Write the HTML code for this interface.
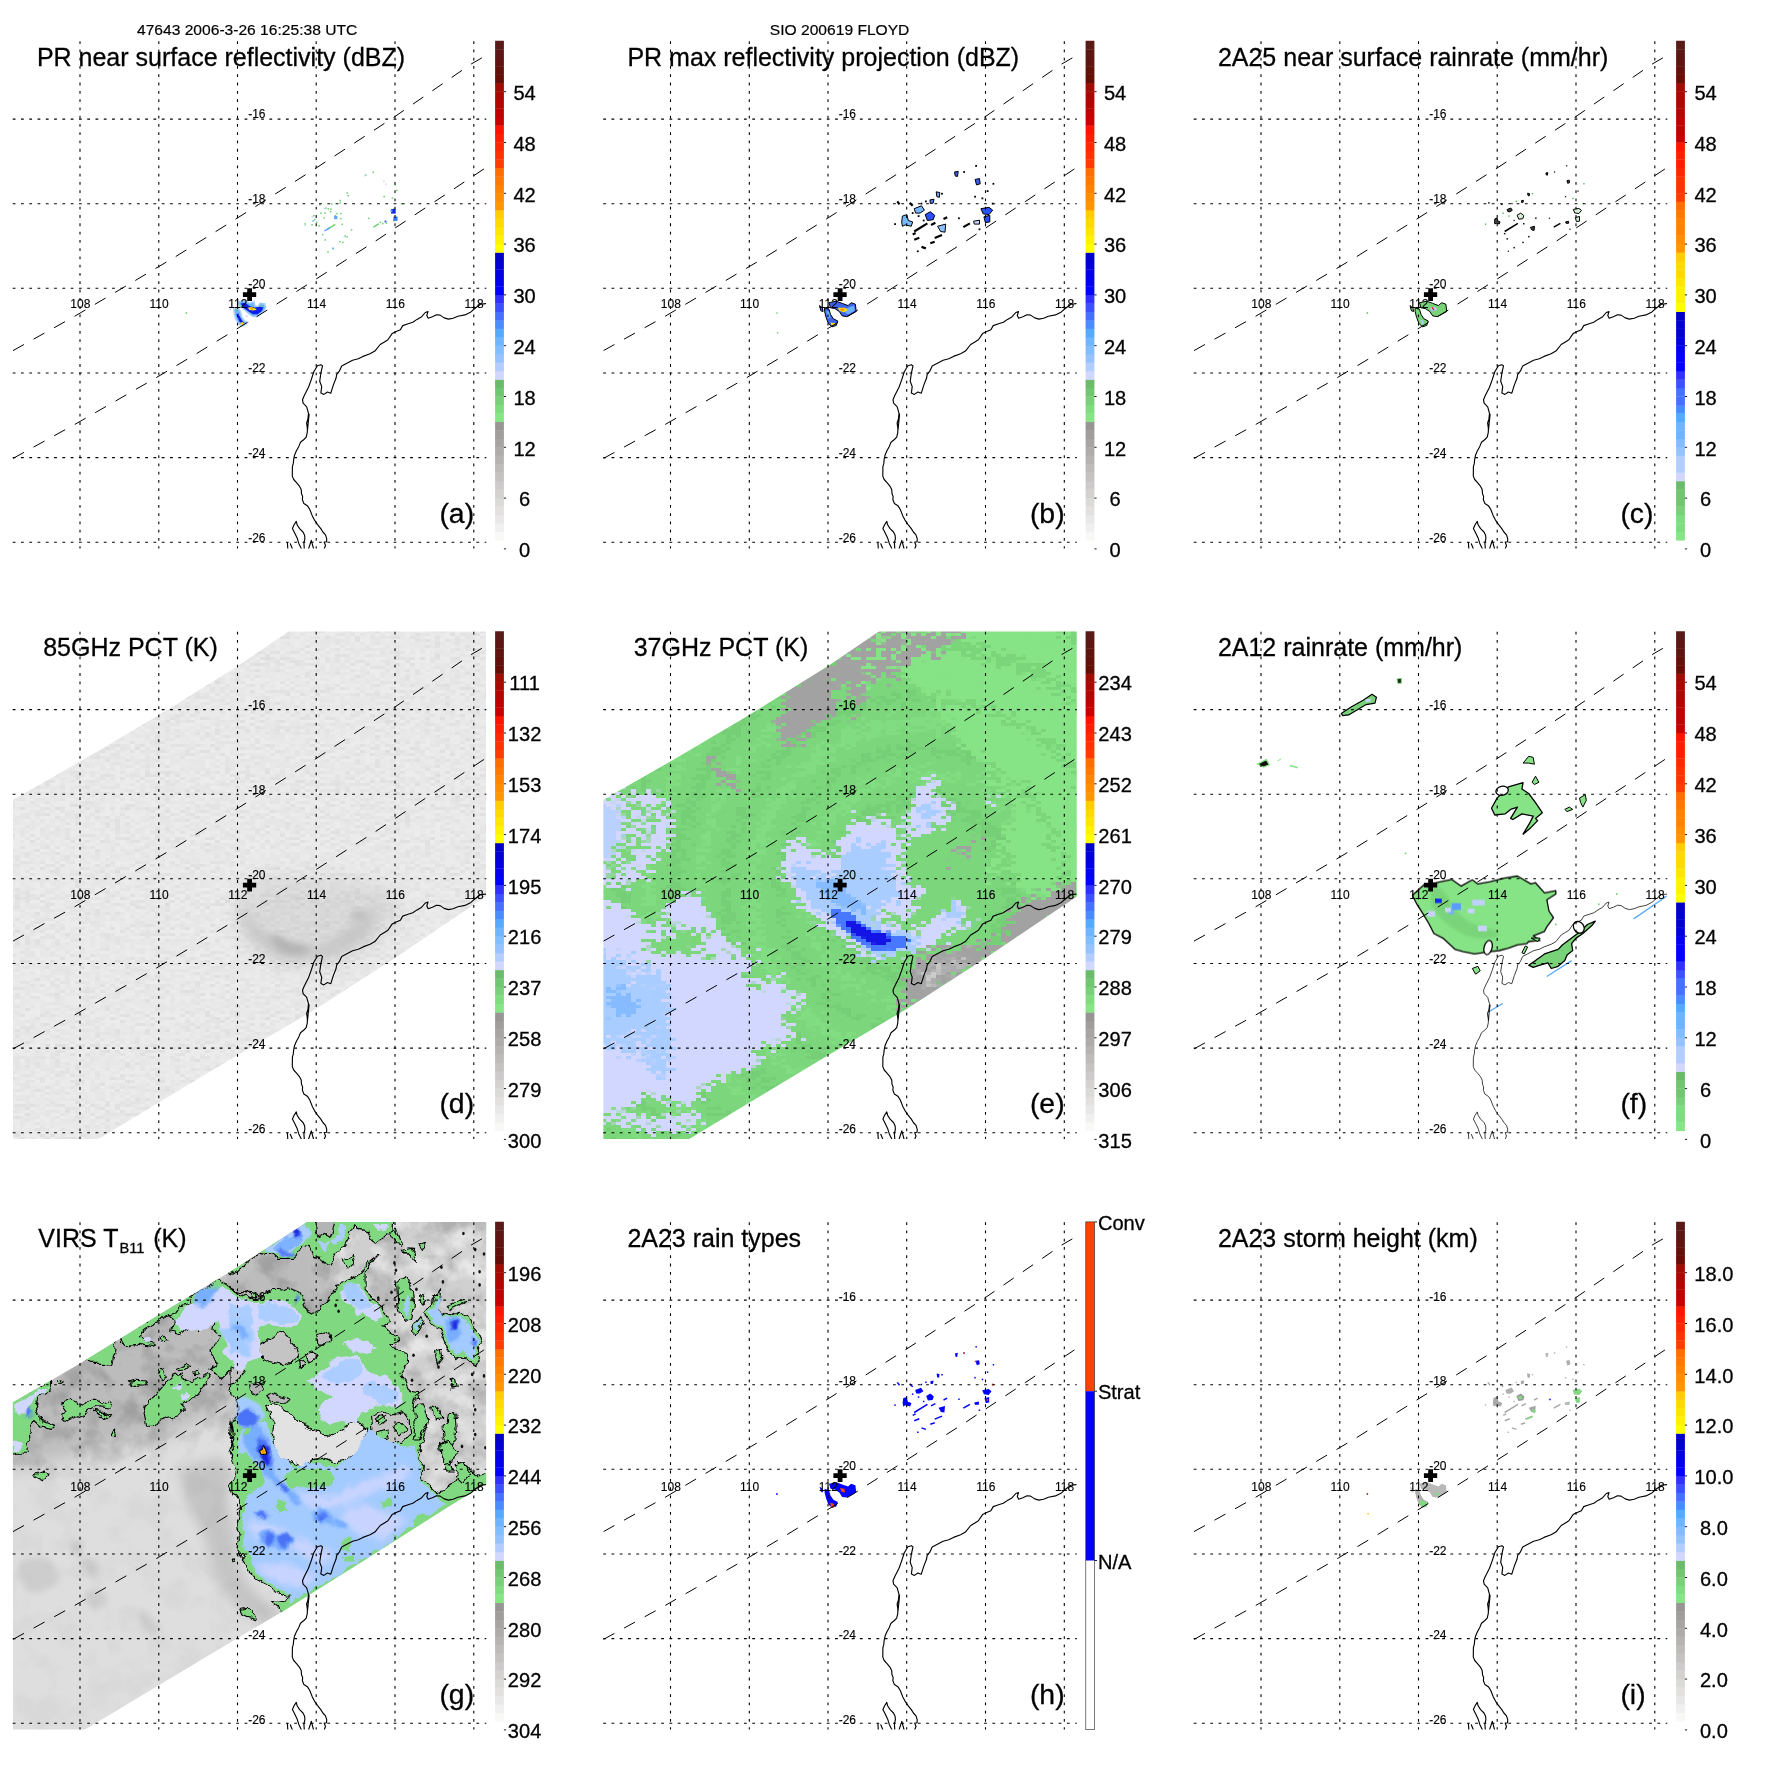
<!DOCTYPE html>
<html><head><meta charset="utf-8"><title>TRMM 47643 FLOYD</title>
<style>
html,body{margin:0;padding:0;background:#fff;}
svg{display:block;font-family:"Liberation Sans",sans-serif;}
.gd{stroke:#000;stroke-width:1.1;stroke-dasharray:2.8 5.48;fill:none;}
.sw{stroke:#000;stroke-width:1;stroke-dasharray:12.5 11;fill:none;}
.co{stroke:#000;fill:none;stroke-linejoin:round;stroke-linecap:round;}
.tk{stroke:#000;stroke-width:0.9;}
.gl{font-size:12px;fill:#000;stroke:#000;stroke-width:0.15px;}
.cb{font-size:19.7px;fill:#000;text-anchor:middle;stroke:#000;stroke-width:0.3px;}
.tt{font-size:25px;fill:#000;stroke:#000;stroke-width:0.3px;}
.pl{font-size:28.4px;fill:#000;stroke:#000;stroke-width:0.3px;}
.hd{font-size:15px;fill:#000;text-anchor:middle;stroke:#000;stroke-width:0.2px;}
.ol{stroke:#000;stroke-width:1.2;stroke-linejoin:round;}
</style></head><body>
<svg width="1771" height="1771" viewBox="0 0 1771 1771">
<defs>
<clipPath id="pc"><rect x="12.7" y="41" width="473.6" height="507.6"/></clipPath>
<g id="fu"><line x1="80" y1="41.2" x2="80" y2="548.6" class="gd"/>
<line x1="158.8" y1="41.2" x2="158.8" y2="548.6" class="gd"/>
<line x1="237.5" y1="41.2" x2="237.5" y2="548.6" class="gd"/>
<line x1="316.2" y1="41.2" x2="316.2" y2="548.6" class="gd"/>
<line x1="395" y1="41.2" x2="395" y2="548.6" class="gd"/>
<line x1="473.8" y1="41.2" x2="473.8" y2="548.6" class="gd"/>
<line x1="12.7" y1="119.1" x2="486.3" y2="119.1" class="gd"/>
<line x1="12.7" y1="203.7" x2="486.3" y2="203.7" class="gd"/>
<line x1="12.7" y1="288.3" x2="486.3" y2="288.3" class="gd"/>
<line x1="12.7" y1="373" x2="486.3" y2="373" class="gd"/>
<line x1="12.7" y1="457.6" x2="486.3" y2="457.6" class="gd"/>
<line x1="12.7" y1="542.2" x2="486.3" y2="542.2" class="gd"/>
<g clip-path="url(#pc)">
<polyline points="13,350.6 74.3,316.5 175.5,256.7 236,218.9 316,168.1 394.1,117.1 471.1,64.1 482,57.8 486.5,55.1" class="sw"/>
<polyline points="13,458.4 74.3,424.7 155.8,377.9 196.1,353.9 256.7,316.7 316,279.1 375.3,241.2 434.6,201.7 484,168.9 486.5,167.2" class="sw"/>
<path d="M485.7 303.6 L480.4 304.2 L475.7 307.8 L470.9 311.9 L465 314.9 L457.9 316.3 L453.1 318.2 L448.4 319.1 L444.2 317.9 L440.1 315.1 L436.5 314.7 L432.4 316.7 L428.2 318.2 L426.8 315.5 L428 311.6 L425.3 312.5 L421.7 316.7 L417 319.4 L412.8 322.3 L408.1 323.8 L402.7 325.6 L400.4 329.7 L396.2 331.5 L392.1 333.6 L387.9 339.8 L384.4 341.9 L380.2 344.5 L374.9 351.1 L370.1 353.8 L363 356.4 L358.3 358.8 L352.6 360.2 L346.4 363.5 L341.7 365.9 L339.3 371.2 L336.7 374.4 L336 378.3 L333.4 384.9 L330.8 393.2 L327.4 392 L323.9 394.4 L320.9 392.9 L321.7 386.6 L319.7 381.3 L320.9 373 L322.5 365.9 L320.9 364.7 L317.4 365.7 L313.8 371.8 L311.1 380.1 L308.5 387.2 L304.3 395.5 L302.5 399.7 L303.1 403.2 L306.7 406.8 L308.5 413.3 L307.9 419.3 L306.7 422.8 L307.5 430 L309.1 414.2 L308.1 418.9 L306.6 423.1 L307.4 427.8 L307.3 432.4 L306.2 437.1 L303.9 439.5 L300.5 442.2 L298.8 446.4 L296.3 451.1 L294.6 454.9 L293.7 459.1 L293.3 463.4 L292.4 466.7 L292.3 476.1 L293.7 479.5 L296.3 482.4 L299.2 485.8 L301.2 489.6 L301.5 493.8 L302.6 496.4 L302.4 499.8 L303.9 503.6 L307.7 506.1 L309.8 509.5 L312.3 515.9 L314.5 520.1 L317.4 524.3 L320.8 528.6 L322.9 532 L325.5 534.9 L326.7 538.7 L326.6 541.7 L324.2 542.1 L325.5 545.5 L324.2 548.9" class="co"/>
<path d="M301.5 548.9 L298.8 543.4 L297.1 537.9 L294.6 532.8 L292.4 528.6 L294.1 524.8 L296.3 521.4 L297.1 524.8 L299.6 528.6 L303 532 L304.6 535.3 L304.9 538.7 L303.9 543 L304.3 548.9" class="co"/>
<path d="M308.5 548.9 L311.3 540.4 L313.6 548.9" class="co"/>
<path d="M287.4 542.5 L287.8 548.9" class="co"/>
<path d="M290.3 543.8 L292.4 548.9" class="co"/>
</g></g>
<g id="lb"><text x="80.3" y="308.4" class="gl" text-anchor="middle">108</text>
<text x="159.1" y="308.4" class="gl" text-anchor="middle">110</text>
<text x="237.8" y="308.4" class="gl" text-anchor="middle">112</text>
<text x="316.6" y="308.4" class="gl" text-anchor="middle">114</text>
<text x="395.3" y="308.4" class="gl" text-anchor="middle">116</text>
<text x="474.1" y="308.4" class="gl" text-anchor="middle">118</text>
<text x="248.2" y="118.4" class="gl">-16</text>
<text x="248.2" y="203" class="gl">-18</text>
<text x="248.2" y="287.6" class="gl">-20</text>
<text x="248.2" y="372.3" class="gl">-22</text>
<text x="248.2" y="456.9" class="gl">-24</text>
<text x="248.2" y="541.5" class="gl">-26</text></g>
<g id="plus"><path d="M247.2 288.2h4.8v4.1h4.2v4.6h-4.2v4h-4.8v-4h-4.3v-4.6h4.3z" fill="#000"/></g>

<filter id="b3" x="-20%" y="-20%" width="140%" height="140%"><feGaussianBlur stdDeviation="3"/></filter>
<filter id="b6" x="-30%" y="-30%" width="160%" height="160%"><feGaussianBlur stdDeviation="6"/></filter>
<filter id="b10" x="-40%" y="-40%" width="180%" height="180%"><feGaussianBlur stdDeviation="10"/></filter>
<filter id="b2" x="-20%" y="-20%" width="140%" height="140%"><feGaussianBlur stdDeviation="1.5"/></filter>
<filter id="px" filterUnits="userSpaceOnUse" x="0" y="30" width="500" height="530" color-interpolation-filters="sRGB">
<feTurbulence type="fractalNoise" baseFrequency="0.4" numOctaves="1" seed="7" x="0" y="30" width="500" height="530" result="n"/>
<feDisplacementMap in="SourceGraphic" in2="n" scale="34" xChannelSelector="R" yChannelSelector="G" x="0" y="30" width="500" height="530" result="d"/>
<feFlood x="2.5" y="31.5" width="1" height="1" flood-color="#000"/>
<feOffset dx="0" dy="0" x="0.5" y="30.5" width="5" height="3"/>
<feTile x="0.5" y="30.5" width="500" height="530" result="t"/>
<feComposite in="d" in2="t" operator="in" x="0" y="30" width="500" height="530"/>
<feMorphology operator="dilate" radius="2 1" x="0" y="30" width="500" height="530"/>
</filter>
<filter id="tex" filterUnits="userSpaceOnUse" x="0" y="30" width="500" height="530" color-interpolation-filters="sRGB">
<feTurbulence type="fractalNoise" baseFrequency="0.3" numOctaves="1" seed="11" x="0" y="30" width="500" height="530"/>
<feColorMatrix type="matrix" values="0 0 0 0 0  0 0 0 0 0  0 0 0 0 0  1.6 0 0 0 -0.62" result="n"/>
<feFlood x="2" y="31.5" width="1" height="1" flood-color="#000"/>
<feOffset dx="0" dy="0" x="0" y="30.5" width="5" height="3"/>
<feTile x="0" y="30.5" width="500" height="530" result="t"/>
<feComposite in="n" in2="t" operator="in" x="0" y="30" width="500" height="530"/>
<feMorphology operator="dilate" radius="2 1" x="0" y="30" width="500" height="530"/>
</filter>
<filter id="px2" filterUnits="userSpaceOnUse" x="0" y="30" width="500" height="530" color-interpolation-filters="sRGB">
<feTurbulence type="fractalNoise" baseFrequency="0.4" numOctaves="1" seed="3" x="0" y="30" width="500" height="530" result="n"/>
<feDisplacementMap in="SourceGraphic" in2="n" scale="8" xChannelSelector="R" yChannelSelector="G" x="0" y="30" width="500" height="530" result="d"/>
<feFlood x="2.5" y="31.5" width="1" height="1" flood-color="#000"/>
<feOffset dx="0" dy="0" x="0.5" y="30.5" width="5" height="3"/>
<feTile x="0.5" y="30.5" width="500" height="530" result="t"/>
<feComposite in="d" in2="t" operator="in" x="0" y="30" width="500" height="530"/>
<feMorphology operator="dilate" radius="2 1" x="0" y="30" width="500" height="530"/>
</filter>
<filter id="rg" filterUnits="userSpaceOnUse" x="0" y="30" width="500" height="530">
<feTurbulence type="fractalNoise" baseFrequency="0.09" numOctaves="3" seed="5" result="n"/>
<feDisplacementMap in="SourceGraphic" in2="n" scale="9" xChannelSelector="R" yChannelSelector="G"/>
</filter>
<filter id="cl" filterUnits="userSpaceOnUse" x="0" y="30" width="500" height="530" color-interpolation-filters="sRGB">
<feTurbulence type="fractalNoise" baseFrequency="0.035" numOctaves="4" seed="21"/>
<feColorMatrix type="matrix" values="0 0 0 0 0  0 0 0 0 0  0 0 0 0 0  3.2 0 0 0 -1.35"/>
</filter>
<filter id="cw" filterUnits="userSpaceOnUse" x="0" y="30" width="500" height="530" color-interpolation-filters="sRGB">
<feTurbulence type="fractalNoise" baseFrequency="0.04" numOctaves="4" seed="8"/>
<feColorMatrix type="matrix" values="0 0 0 0 1  0 0 0 0 1  0 0 0 0 1  0 3.2 0 0 -1.35"/>
</filter>
<mask id="gupm" maskUnits="userSpaceOnUse" x="0" y="0" width="520" height="600"><path d="M0 225L320 30L500 30L500 330L440 345L330 215L250 235L180 265L100 280L0 300Z" fill="#fff" filter="url(#b10)"/></mask>
<clipPath id="gup"><path d="M0 225L320 30L500 30L500 330L440 345L330 255L250 275L180 315L100 315L0 345Z"/></clipPath>
<clipPath id="gur"><path d="M330 30L500 30L500 330L440 345L400 250L380 150L330 120Z"/></clipPath>
<clipPath id="virs"><path d="M12.7 221.6 80 182.4 158.6 134 237.4 86.3 307 41 486.4 41 486.4 302.5 445.6 327.4 363.7 379.8 285.1 428.9 200 479.7 84.7 548.9 12.7 548.9 Z"/></clipPath>
<clipPath id="fmain"><path d="M231.4 304.7 242.7 294.5 255.1 292.2 270.9 288.9 280 295.6 291.3 289.3 296.9 293.4 309.3 291.1 322.9 287.7 336.4 285.5 350 293.4 354.5 292.2 363.5 302.4 374.8 300.1 374.8 303.5 365.8 309.2 368 320.5 372.5 327.2 365.8 336.3 363.5 340.8 352.2 345.3 359 349.8 347.7 351 345.5 353.2 336.4 354.3 327.4 357.7 318.4 360 309.3 361.1 293.5 363.4 282.2 361.1 274.3 358.9 261.9 347.6 252.9 343 248.4 334 241.6 322.7 235.9 313.7Z"/></clipPath>
<clipPath id="tmi"><path d="M12.7 209.2 79.9 171 158.7 124.4 237.9 75.2 289.1 40.5 486.4 40.5 486.4 306 474.1 314.3 395.1 367.4 316.5 418.2 238.1 464.5 159.1 512 98 548.9 12.7 548.9 Z"/></clipPath>

</defs>
<rect width="1771" height="1771" fill="#fff"/>
<g opacity="0.999">
<text transform="translate(247.1 35.2) scale(1.04 1)" class="hd">47643 2006-3-26 16:25:38 UTC</text>
<text transform="translate(839.6 35.2) scale(1.04 1)" class="hd">SIO 200619 FLOYD</text>
<g transform="translate(0 0)">
<g clip-path="url(#pc)"><rect x="365" y="174.4" width="1.5" height="1.5" fill="#6cd06c"/>
<rect x="372.5" y="171.5" width="1.5" height="1.5" fill="#6cd06c"/>
<rect x="394.5" y="184" width="1.5" height="1.5" fill="#6cd06c"/>
<rect x="396.1" y="189.7" width="1.5" height="1.5" fill="#6cd06c"/>
<rect x="383.4" y="195.9" width="1.5" height="1.5" fill="#6cd06c"/>
<rect x="391.7" y="197.3" width="1.5" height="1.5" fill="#6cd06c"/>
<rect x="346.4" y="192.3" width="1.5" height="1.5" fill="#6cd06c"/>
<rect x="347.4" y="194.9" width="1.5" height="1.5" fill="#6cd06c"/>
<rect x="339.5" y="199.8" width="1.5" height="1.5" fill="#6cd06c"/>
<rect x="339.3" y="202.2" width="1.5" height="1.5" fill="#6cd06c"/>
<rect x="331" y="203.4" width="1.5" height="1.5" fill="#6cd06c"/>
<rect x="319.2" y="204" width="1.5" height="1.5" fill="#6cd06c"/>
<rect x="325.1" y="207.4" width="1.5" height="1.5" fill="#6cd06c"/>
<rect x="327.5" y="208.1" width="1.5" height="1.5" fill="#6cd06c"/>
<rect x="330.2" y="208.5" width="1.5" height="1.5" fill="#6cd06c"/>
<rect x="329.8" y="210.9" width="1.5" height="1.5" fill="#6cd06c"/>
<rect x="320.2" y="212.5" width="1.5" height="1.5" fill="#6cd06c"/>
<rect x="324.3" y="212.3" width="1.5" height="1.5" fill="#6cd06c"/>
<rect x="336.2" y="212.9" width="1.5" height="1.5" fill="#6cd06c"/>
<rect x="340.1" y="212.9" width="1.5" height="1.5" fill="#6cd06c"/>
<rect x="334.6" y="214.9" width="1.5" height="1.5" fill="#6cd06c"/>
<rect x="323.5" y="217.2" width="1.5" height="1.5" fill="#6cd06c"/>
<rect x="313.2" y="214.9" width="1.5" height="1.5" fill="#6cd06c"/>
<rect x="314" y="218.8" width="1.5" height="1.5" fill="#6cd06c"/>
<rect x="340.1" y="217.9" width="1.5" height="1.5" fill="#6cd06c"/>
<rect x="367.9" y="217.6" width="1.5" height="1.5" fill="#6cd06c"/>
<rect x="304.4" y="223.2" width="1.5" height="1.5" fill="#6cd06c"/>
<rect x="311.3" y="224" width="1.5" height="1.5" fill="#6cd06c"/>
<rect x="316" y="221.6" width="1.5" height="1.5" fill="#6cd06c"/>
<rect x="318.4" y="225" width="1.5" height="1.5" fill="#6cd06c"/>
<rect x="341.3" y="223.6" width="1.5" height="1.5" fill="#6cd06c"/>
<rect x="350.8" y="229.1" width="1.5" height="1.5" fill="#6cd06c"/>
<rect x="379.6" y="221.6" width="1.5" height="1.5" fill="#6cd06c"/>
<rect x="382" y="222.8" width="1.5" height="1.5" fill="#6cd06c"/>
<rect x="385.6" y="222.4" width="1.5" height="1.5" fill="#6cd06c"/>
<rect x="321.9" y="233.7" width="1.5" height="1.5" fill="#6cd06c"/>
<rect x="324.5" y="239.2" width="1.5" height="1.5" fill="#6cd06c"/>
<rect x="344.5" y="235.3" width="1.5" height="1.5" fill="#6cd06c"/>
<rect x="346.4" y="236.2" width="1.5" height="1.5" fill="#6cd06c"/>
<rect x="339.3" y="240.9" width="1.5" height="1.5" fill="#6cd06c"/>
<rect x="342.1" y="241.6" width="1.5" height="1.5" fill="#6cd06c"/>
<rect x="327.3" y="251.2" width="1.5" height="1.5" fill="#6cd06c"/>
<rect x="400.8" y="203.2" width="1.5" height="1.5" fill="#6cd06c"/>
<rect x="393.1" y="208.1" width="1.5" height="1.5" fill="#6cd06c"/>
<rect x="395.9" y="216.4" width="1.5" height="1.5" fill="#6cd06c"/>
<rect x="393.1" y="220" width="1.5" height="1.5" fill="#6cd06c"/>
<line x1="327.4" y1="229.1" x2="335.3" y2="224.3" stroke="#6cd06c" stroke-width="1.4"/>
<line x1="373.3" y1="227.1" x2="378.8" y2="223.9" stroke="#6cd06c" stroke-width="1.4"/>
<line x1="324.3" y1="231" x2="329.8" y2="227.9" stroke="#55a0ff" stroke-width="1.4"/>
<rect x="334.1" y="216" width="3.2" height="3.2" fill="#55aaff"/>
<rect x="332.1" y="247.5" width="1.8" height="1.8" fill="#55aaff"/>
<rect x="384.6" y="220.6" width="1.8" height="1.8" fill="#2a50ff"/>
<rect x="312.4" y="220" width="1.6" height="1.6" fill="#78b8ff"/>
<rect x="364.2" y="174.9" width="1.5" height="1.5" fill="#c8d2ff"/>
<rect x="383.2" y="180.5" width="1.5" height="1.5" fill="#d2d7ff"/>
<rect x="385.2" y="183.4" width="1.5" height="1.5" fill="#d2d7ff"/>
<rect x="323.5" y="208.1" width="1.5" height="1.5" fill="#d2d7ff"/>
<rect x="311.5" y="215.9" width="1.8" height="1.8" fill="#d2d7ff"/>
<rect x="304.5" y="225.1" width="1.5" height="1.5" fill="#d2d7ff"/>
<rect x="343.4" y="236.2" width="1.5" height="1.5" fill="#d2d7ff"/>
<rect x="393.3" y="216.7" width="4.2" height="4.2" fill="#3c78ff"/>
<rect x="391.1" y="209" width="4.6" height="4.6" fill="#1428f0"/>
<rect x="390.5" y="209.9" width="2" height="2" fill="#55aaff"/>
<path d="M238.4 302 244.5 300.7 250 303.4 254 301.3 254.7 306.1 258.1 306.8 260.1 303.4 264.9 304 265.5 307.4 263.5 311.5 260.1 313.5 257.4 316.2 252.7 316.2 248.6 313.5 245.2 310.1 241.8 307.4 239.1 304.7Z" fill="#6ab4ff" stroke="#9ccaff" stroke-width="1.5"/>
<path d="M233.7 308.8 237.8 307.4 240.5 311.5 241.8 316.9 244.5 321 247.9 322.3 244.5 325 241.8 326.4 238.4 323.7 235.7 318.9 234.4 314.2Z" fill="#6ab4ff" stroke="#b4d4ff" stroke-width="1.5"/>
<path d="M240.5 303.4 245.2 302.7 249.3 306.1 254.7 307.4 260.1 306.8 263.5 307.4 261.5 311.5 257.4 314.2 252.7 314.2 248.6 311.5 244.5 308.8Z" fill="#0f1eea"/>
<path d="M236.4 314.2 238.4 313.5 241.1 318.9 243.9 323 241.8 324.4 239.1 321Z" fill="#0f1eea"/>
<path d="M247.9 307.8 251.3 307.1 255.4 308.4 256.7 309.8 253.3 310.5 249.3 310.1Z" fill="#ffdc00"/>
<path d="M250.6 307.8 253 307.8 253 309.5 250.6 309.5Z" fill="#ff9a00"/>
<path d="M240.1 322.7 242.8 322 243.9 324.4 241.1 325Z" fill="#ffdc00"/>
<rect x="185.5" y="312.2" width="1.6" height="1.6" fill="#6cd06c"/>
<rect x="235.9" y="309.3" width="1.6" height="1.6" fill="#6cd06c"/>
<rect x="239.7" y="306" width="1.6" height="1.6" fill="#6cd06c"/>
<rect x="238.7" y="314.1" width="1.6" height="1.6" fill="#6cd06c"/>
<rect x="260.7" y="305.3" width="1.6" height="1.6" fill="#6cd06c"/>
<rect x="228.7" y="306.5" width="1.8" height="1.8" fill="#c8d6ff"/>
<rect x="229.4" y="308.6" width="1.8" height="1.8" fill="#c8d6ff"/>
<rect x="253.1" y="301.1" width="1.8" height="1.8" fill="#c8d6ff"/>
<rect x="264" y="303.8" width="1.8" height="1.8" fill="#c8d6ff"/>
<rect x="245.7" y="315.3" width="1.8" height="1.8" fill="#c8d6ff"/></g>
<use href="#fu" stroke-width="1.15"/>
<use href="#lb" y="0"/>

<use href="#plus"/>
<text x="36.9" y="65.9" class="tt">PR near surface reflectivity (dBZ)</text>
<text x="439.4" y="522.6" class="pl">(a)</text>
<rect x="495.1" y="531.82" width="8.8" height="8.77" fill="#f8f8f7"/>
<rect x="495.1" y="523.35" width="8.8" height="8.77" fill="#f0f0f0"/>
<rect x="495.1" y="514.88" width="8.8" height="8.77" fill="#e9e8e8"/>
<rect x="495.1" y="506.42" width="8.8" height="8.77" fill="#e2e1e0"/>
<rect x="495.1" y="497.95" width="8.8" height="8.77" fill="#dadad9"/>
<rect x="495.1" y="489.48" width="8.8" height="8.77" fill="#d3d2d1"/>
<rect x="495.1" y="481.02" width="8.8" height="8.77" fill="#cccaca"/>
<rect x="495.1" y="472.55" width="8.8" height="8.77" fill="#c4c3c2"/>
<rect x="495.1" y="464.08" width="8.8" height="8.77" fill="#bdbcba"/>
<rect x="495.1" y="455.62" width="8.8" height="8.77" fill="#b5b4b3"/>
<rect x="495.1" y="447.15" width="8.8" height="8.77" fill="#aeacab"/>
<rect x="495.1" y="438.68" width="8.8" height="8.77" fill="#a7a5a3"/>
<rect x="495.1" y="430.22" width="8.8" height="8.77" fill="#9f9e9c"/>
<rect x="495.1" y="421.75" width="8.8" height="8.77" fill="#989694"/>
<rect x="495.1" y="413.28" width="8.8" height="8.77" fill="#86e686"/>
<rect x="495.1" y="404.82" width="8.8" height="8.77" fill="#7fdc7f"/>
<rect x="495.1" y="396.35" width="8.8" height="8.77" fill="#78d178"/>
<rect x="495.1" y="387.88" width="8.8" height="8.77" fill="#71c671"/>
<rect x="495.1" y="379.42" width="8.8" height="8.77" fill="#6abc6a"/>
<rect x="495.1" y="370.95" width="8.8" height="8.77" fill="#d2d7ff"/>
<rect x="495.1" y="362.48" width="8.8" height="8.77" fill="#b4cdff"/>
<rect x="495.1" y="354.02" width="8.8" height="8.77" fill="#96c3ff"/>
<rect x="495.1" y="345.55" width="8.8" height="8.77" fill="#82beff"/>
<rect x="495.1" y="337.08" width="8.8" height="8.77" fill="#6eb4ff"/>
<rect x="495.1" y="328.62" width="8.8" height="8.77" fill="#55aaff"/>
<rect x="495.1" y="320.15" width="8.8" height="8.77" fill="#4a8cff"/>
<rect x="495.1" y="311.68" width="8.8" height="8.77" fill="#4670ff"/>
<rect x="495.1" y="303.22" width="8.8" height="8.77" fill="#3c50ff"/>
<rect x="495.1" y="294.75" width="8.8" height="8.77" fill="#3030ff"/>
<rect x="495.1" y="286.28" width="8.8" height="8.77" fill="#0000ff"/>
<rect x="495.1" y="277.82" width="8.8" height="8.77" fill="#0000f0"/>
<rect x="495.1" y="269.35" width="8.8" height="8.77" fill="#0000e1"/>
<rect x="495.1" y="260.88" width="8.8" height="8.77" fill="#0000d4"/>
<rect x="495.1" y="252.42" width="8.8" height="8.77" fill="#0000c8"/>
<rect x="495.1" y="243.95" width="8.8" height="8.77" fill="#ffff00"/>
<rect x="495.1" y="235.48" width="8.8" height="8.77" fill="#fff200"/>
<rect x="495.1" y="227.02" width="8.8" height="8.77" fill="#ffe600"/>
<rect x="495.1" y="218.55" width="8.8" height="8.77" fill="#ffda00"/>
<rect x="495.1" y="210.08" width="8.8" height="8.77" fill="#ffcd00"/>
<rect x="495.1" y="201.62" width="8.8" height="8.77" fill="#ff9600"/>
<rect x="495.1" y="193.15" width="8.8" height="8.77" fill="#ff8c00"/>
<rect x="495.1" y="184.68" width="8.8" height="8.77" fill="#ff8200"/>
<rect x="495.1" y="176.22" width="8.8" height="8.77" fill="#ff7800"/>
<rect x="495.1" y="167.75" width="8.8" height="8.77" fill="#ff6e00"/>
<rect x="495.1" y="159.28" width="8.8" height="8.77" fill="#ff3c00"/>
<rect x="495.1" y="150.82" width="8.8" height="8.77" fill="#ff3200"/>
<rect x="495.1" y="142.35" width="8.8" height="8.77" fill="#ff2800"/>
<rect x="495.1" y="133.88" width="8.8" height="8.77" fill="#ff1e00"/>
<rect x="495.1" y="125.42" width="8.8" height="8.77" fill="#ff1400"/>
<rect x="495.1" y="116.95" width="8.8" height="8.77" fill="#c80000"/>
<rect x="495.1" y="108.48" width="8.8" height="8.77" fill="#be0300"/>
<rect x="495.1" y="100.02" width="8.8" height="8.77" fill="#b40600"/>
<rect x="495.1" y="91.55" width="8.8" height="8.77" fill="#aa0900"/>
<rect x="495.1" y="83.08" width="8.8" height="8.77" fill="#a00c00"/>
<rect x="495.1" y="74.62" width="8.8" height="8.77" fill="#640e06"/>
<rect x="495.1" y="66.15" width="8.8" height="8.77" fill="#62110a"/>
<rect x="495.1" y="57.68" width="8.8" height="8.77" fill="#5f140f"/>
<rect x="495.1" y="49.22" width="8.8" height="8.77" fill="#5c1714"/>
<rect x="495.1" y="40.75" width="8.8" height="8.77" fill="#5a1a18"/>
<line x1="503.9" y1="548.90" x2="506.1" y2="548.90" class="tk"/>
<text transform="translate(524.6 557.1) scale(1.02 1)" class="cb">0</text>
<line x1="503.9" y1="498.10" x2="506.1" y2="498.10" class="tk"/>
<text transform="translate(524.6 506.3) scale(1.02 1)" class="cb">6</text>
<line x1="503.9" y1="447.30" x2="506.1" y2="447.30" class="tk"/>
<text transform="translate(524.6 455.5) scale(1.02 1)" class="cb">12</text>
<line x1="503.9" y1="396.50" x2="506.1" y2="396.50" class="tk"/>
<text transform="translate(524.6 404.7) scale(1.02 1)" class="cb">18</text>
<line x1="503.9" y1="345.70" x2="506.1" y2="345.70" class="tk"/>
<text transform="translate(524.6 353.9) scale(1.02 1)" class="cb">24</text>
<line x1="503.9" y1="294.90" x2="506.1" y2="294.90" class="tk"/>
<text transform="translate(524.6 303.1) scale(1.02 1)" class="cb">30</text>
<line x1="503.9" y1="244.10" x2="506.1" y2="244.10" class="tk"/>
<text transform="translate(524.6 252.3) scale(1.02 1)" class="cb">36</text>
<line x1="503.9" y1="193.30" x2="506.1" y2="193.30" class="tk"/>
<text transform="translate(524.6 201.5) scale(1.02 1)" class="cb">42</text>
<line x1="503.9" y1="142.50" x2="506.1" y2="142.50" class="tk"/>
<text transform="translate(524.6 150.7) scale(1.02 1)" class="cb">48</text>
<line x1="503.9" y1="91.70" x2="506.1" y2="91.70" class="tk"/>
<text transform="translate(524.6 99.9) scale(1.02 1)" class="cb">54</text>
</g>
<g transform="translate(590.5 0)">
<g clip-path="url(#pc)"><path d="M311.9 216.1 316.3 214.6 317.8 220.5 322.2 221.9 320.7 226.3 314.8 224.9 311.9 226.3 311.2 221.9Z" fill="#78b8ff" stroke="#000" stroke-width="1" stroke-linejoin="round"/>
<path d="M323.7 208.7 331 205.8 333.9 210.2 329.5 213.1 325.1 213.1Z" fill="#78b8ff" stroke="#000" stroke-width="1" stroke-linejoin="round"/>
<path d="M334.7 214.6 339.8 211.7 344.2 215.3 342.7 219.7 336.9 220.5Z" fill="#2a50ff" stroke="#000" stroke-width="1" stroke-linejoin="round"/>
<path d="M347.1 226.3 355.2 224.1 354.5 232.2 350.1 231.5Z" fill="#8cc0ff" stroke="#000" stroke-width="1" stroke-linejoin="round"/>
<path d="M390.4 208.7 398.5 207.3 402.2 210.2 398.5 214.6 392.7 213.9Z" fill="#2a50ff" stroke="#000" stroke-width="1" stroke-linejoin="round"/>
<path d="M393.4 216.8 399.3 215.3 399.3 221.9 394.9 222.7Z" fill="#2a50ff" stroke="#000" stroke-width="1" stroke-linejoin="round"/>
<path d="M383.1 221.2 389 220.2 389 224.1 383.8 224.1Z" fill="#c8d6ff" stroke="#000" stroke-width="1" stroke-linejoin="round"/>
<path d="M345.7 191.8 349.3 192.6 348.9 197.3 346.4 196.7Z" fill="#78a0ff" stroke="#000" stroke-width="1" stroke-linejoin="round"/>
<path d="M339.5 199.9 343.5 199.2 342.7 203.1 339.8 203.6Z" fill="#5078ff" stroke="#000" stroke-width="1" stroke-linejoin="round"/>
<path d="M384.6 179.4 389 178.6 389.7 183.8 386 184.9Z" fill="#3c5cf0" stroke="#000" stroke-width="1" stroke-linejoin="round"/>
<path d="M364 172 367.7 171.3 367 176.4 364.8 176.1Z" fill="#3c5cf0" stroke="#000" stroke-width="1" stroke-linejoin="round"/>
<line x1="323.7" y1="231.5" x2="336.9" y2="223.4" stroke="#000" stroke-width="2.2"/>
<line x1="372.8" y1="227.1" x2="379.4" y2="223.4" stroke="#000" stroke-width="2.2"/>
<line x1="344.2" y1="238.1" x2="351.5" y2="235.1" stroke="#000" stroke-width="2.2"/>
<line x1="323.7" y1="239.8" x2="328.8" y2="237.8" stroke="#000" stroke-width="2.2"/>
<line x1="339.8" y1="243.2" x2="344.2" y2="241.8" stroke="#000" stroke-width="2.2"/>
<line x1="331" y1="246.9" x2="335.4" y2="248.4" stroke="#000" stroke-width="2.2"/>
<line x1="322.2" y1="234.4" x2="325.1" y2="232.9" stroke="#000" stroke-width="2.2"/>
<line x1="340.5" y1="224.9" x2="344.9" y2="222.7" stroke="#000" stroke-width="2.2"/>
<line x1="353" y1="219" x2="356.7" y2="217.2" stroke="#000" stroke-width="2.2"/>
<line x1="306.8" y1="201.4" x2="309" y2="204.3" stroke="#000" stroke-width="2.2"/>
<line x1="319.2" y1="202.9" x2="322.2" y2="205.8" stroke="#000" stroke-width="2.2"/>
<rect x="326.4" y="250.4" width="1.8" height="1.8" fill="#000"/>
<rect x="303.7" y="223.2" width="1.8" height="1.8" fill="#000"/>
<rect x="383.7" y="195.8" width="1.8" height="1.8" fill="#000"/>
<rect x="391" y="197.5" width="1.8" height="1.8" fill="#000"/>
<rect x="396.2" y="190.2" width="1.8" height="1.8" fill="#000"/>
<rect x="402" y="182.9" width="1.8" height="1.8" fill="#000"/>
<rect x="384.7" y="165" width="1.8" height="1.8" fill="#000"/>
<rect x="401.3" y="202.7" width="1.8" height="1.8" fill="#000"/>
<rect x="388.1" y="228.4" width="1.8" height="1.8" fill="#000"/>
<rect x="327.2" y="215.2" width="1.8" height="1.8" fill="#000"/>
<rect x="332.3" y="219.6" width="1.8" height="1.8" fill="#000"/>
<rect x="321.3" y="212.2" width="1.8" height="1.8" fill="#000"/>
<rect x="330.1" y="202.7" width="1.8" height="1.8" fill="#000"/>
<rect x="334.5" y="200.5" width="1.8" height="1.8" fill="#000"/>
<rect x="367.5" y="217.4" width="1.8" height="1.8" fill="#000"/>
<rect x="350.6" y="192.8" width="1.8" height="1.8" fill="#000"/>
<rect x="372.7" y="171.1" width="1.8" height="1.8" fill="#000"/>
<rect x="185.7" y="312.3" width="1.4" height="1.4" fill="#6cd06c"/>
<rect x="186.4" y="332.1" width="1.4" height="1.4" fill="#6cd06c"/>
<path d="M238.5 302.7 245.8 301.2 251.7 303.4 257.6 305.6 260.5 302.7 264.9 304.2 265.7 311.5 260.5 314.4 256.1 316.6 251.7 315.9 248.8 311.5 244.4 308.6 240 307.8Z" fill="#3c64f4" stroke="#000" stroke-width="1" stroke-linejoin="round"/>
<path d="M234.1 307.8 238.5 309.3 240 314.4 242.9 318.8 247.3 321 245.8 325.4 241.4 326.9 237.8 323.2 235.6 317.4 234.1 311.5Z" fill="#3c64f4" stroke="#000" stroke-width="1" stroke-linejoin="round"/>
<path d="M229 305.6 231.9 307.8 232.6 311.5 230.4 310.8Z" fill="#3c64f4" stroke="#000" stroke-width="1" stroke-linejoin="round"/>
<path d="M251.7 310.8 257.6 307.8 263.5 305.6 264.2 310.8 257.6 314.4Z" fill="#6ab0ff"/>
<path d="M235.6 310.8 238.5 311.5 240 317.4 237.3 318.8Z" fill="#6ab0ff"/>
<path d="M247.3 307.8 254.6 307.8 257.6 310 253.2 312.2 248.8 310.8Z" fill="#ffdc00"/>
<path d="M250 308.6 253.9 308.6 253.9 310.8 250 310.8Z" fill="#ff9a00"/>
<path d="M240 322.5 245.1 323.2 243.6 325.4 240.7 324.7Z" fill="#ffdc00"/></g>
<use href="#fu" stroke-width="1.15"/>
<use href="#lb" y="0"/>

<use href="#plus"/>
<text x="36.9" y="65.9" class="tt">PR max reflectivity projection (dBZ)</text>
<text x="439.4" y="522.6" class="pl">(b)</text>
<rect x="495.1" y="531.82" width="8.8" height="8.77" fill="#f8f8f7"/>
<rect x="495.1" y="523.35" width="8.8" height="8.77" fill="#f0f0f0"/>
<rect x="495.1" y="514.88" width="8.8" height="8.77" fill="#e9e8e8"/>
<rect x="495.1" y="506.42" width="8.8" height="8.77" fill="#e2e1e0"/>
<rect x="495.1" y="497.95" width="8.8" height="8.77" fill="#dadad9"/>
<rect x="495.1" y="489.48" width="8.8" height="8.77" fill="#d3d2d1"/>
<rect x="495.1" y="481.02" width="8.8" height="8.77" fill="#cccaca"/>
<rect x="495.1" y="472.55" width="8.8" height="8.77" fill="#c4c3c2"/>
<rect x="495.1" y="464.08" width="8.8" height="8.77" fill="#bdbcba"/>
<rect x="495.1" y="455.62" width="8.8" height="8.77" fill="#b5b4b3"/>
<rect x="495.1" y="447.15" width="8.8" height="8.77" fill="#aeacab"/>
<rect x="495.1" y="438.68" width="8.8" height="8.77" fill="#a7a5a3"/>
<rect x="495.1" y="430.22" width="8.8" height="8.77" fill="#9f9e9c"/>
<rect x="495.1" y="421.75" width="8.8" height="8.77" fill="#989694"/>
<rect x="495.1" y="413.28" width="8.8" height="8.77" fill="#86e686"/>
<rect x="495.1" y="404.82" width="8.8" height="8.77" fill="#7fdc7f"/>
<rect x="495.1" y="396.35" width="8.8" height="8.77" fill="#78d178"/>
<rect x="495.1" y="387.88" width="8.8" height="8.77" fill="#71c671"/>
<rect x="495.1" y="379.42" width="8.8" height="8.77" fill="#6abc6a"/>
<rect x="495.1" y="370.95" width="8.8" height="8.77" fill="#d2d7ff"/>
<rect x="495.1" y="362.48" width="8.8" height="8.77" fill="#b4cdff"/>
<rect x="495.1" y="354.02" width="8.8" height="8.77" fill="#96c3ff"/>
<rect x="495.1" y="345.55" width="8.8" height="8.77" fill="#82beff"/>
<rect x="495.1" y="337.08" width="8.8" height="8.77" fill="#6eb4ff"/>
<rect x="495.1" y="328.62" width="8.8" height="8.77" fill="#55aaff"/>
<rect x="495.1" y="320.15" width="8.8" height="8.77" fill="#4a8cff"/>
<rect x="495.1" y="311.68" width="8.8" height="8.77" fill="#4670ff"/>
<rect x="495.1" y="303.22" width="8.8" height="8.77" fill="#3c50ff"/>
<rect x="495.1" y="294.75" width="8.8" height="8.77" fill="#3030ff"/>
<rect x="495.1" y="286.28" width="8.8" height="8.77" fill="#0000ff"/>
<rect x="495.1" y="277.82" width="8.8" height="8.77" fill="#0000f0"/>
<rect x="495.1" y="269.35" width="8.8" height="8.77" fill="#0000e1"/>
<rect x="495.1" y="260.88" width="8.8" height="8.77" fill="#0000d4"/>
<rect x="495.1" y="252.42" width="8.8" height="8.77" fill="#0000c8"/>
<rect x="495.1" y="243.95" width="8.8" height="8.77" fill="#ffff00"/>
<rect x="495.1" y="235.48" width="8.8" height="8.77" fill="#fff200"/>
<rect x="495.1" y="227.02" width="8.8" height="8.77" fill="#ffe600"/>
<rect x="495.1" y="218.55" width="8.8" height="8.77" fill="#ffda00"/>
<rect x="495.1" y="210.08" width="8.8" height="8.77" fill="#ffcd00"/>
<rect x="495.1" y="201.62" width="8.8" height="8.77" fill="#ff9600"/>
<rect x="495.1" y="193.15" width="8.8" height="8.77" fill="#ff8c00"/>
<rect x="495.1" y="184.68" width="8.8" height="8.77" fill="#ff8200"/>
<rect x="495.1" y="176.22" width="8.8" height="8.77" fill="#ff7800"/>
<rect x="495.1" y="167.75" width="8.8" height="8.77" fill="#ff6e00"/>
<rect x="495.1" y="159.28" width="8.8" height="8.77" fill="#ff3c00"/>
<rect x="495.1" y="150.82" width="8.8" height="8.77" fill="#ff3200"/>
<rect x="495.1" y="142.35" width="8.8" height="8.77" fill="#ff2800"/>
<rect x="495.1" y="133.88" width="8.8" height="8.77" fill="#ff1e00"/>
<rect x="495.1" y="125.42" width="8.8" height="8.77" fill="#ff1400"/>
<rect x="495.1" y="116.95" width="8.8" height="8.77" fill="#c80000"/>
<rect x="495.1" y="108.48" width="8.8" height="8.77" fill="#be0300"/>
<rect x="495.1" y="100.02" width="8.8" height="8.77" fill="#b40600"/>
<rect x="495.1" y="91.55" width="8.8" height="8.77" fill="#aa0900"/>
<rect x="495.1" y="83.08" width="8.8" height="8.77" fill="#a00c00"/>
<rect x="495.1" y="74.62" width="8.8" height="8.77" fill="#640e06"/>
<rect x="495.1" y="66.15" width="8.8" height="8.77" fill="#62110a"/>
<rect x="495.1" y="57.68" width="8.8" height="8.77" fill="#5f140f"/>
<rect x="495.1" y="49.22" width="8.8" height="8.77" fill="#5c1714"/>
<rect x="495.1" y="40.75" width="8.8" height="8.77" fill="#5a1a18"/>
<line x1="503.9" y1="548.90" x2="506.1" y2="548.90" class="tk"/>
<text transform="translate(524.6 557.1) scale(1.02 1)" class="cb">0</text>
<line x1="503.9" y1="498.10" x2="506.1" y2="498.10" class="tk"/>
<text transform="translate(524.6 506.3) scale(1.02 1)" class="cb">6</text>
<line x1="503.9" y1="447.30" x2="506.1" y2="447.30" class="tk"/>
<text transform="translate(524.6 455.5) scale(1.02 1)" class="cb">12</text>
<line x1="503.9" y1="396.50" x2="506.1" y2="396.50" class="tk"/>
<text transform="translate(524.6 404.7) scale(1.02 1)" class="cb">18</text>
<line x1="503.9" y1="345.70" x2="506.1" y2="345.70" class="tk"/>
<text transform="translate(524.6 353.9) scale(1.02 1)" class="cb">24</text>
<line x1="503.9" y1="294.90" x2="506.1" y2="294.90" class="tk"/>
<text transform="translate(524.6 303.1) scale(1.02 1)" class="cb">30</text>
<line x1="503.9" y1="244.10" x2="506.1" y2="244.10" class="tk"/>
<text transform="translate(524.6 252.3) scale(1.02 1)" class="cb">36</text>
<line x1="503.9" y1="193.30" x2="506.1" y2="193.30" class="tk"/>
<text transform="translate(524.6 201.5) scale(1.02 1)" class="cb">42</text>
<line x1="503.9" y1="142.50" x2="506.1" y2="142.50" class="tk"/>
<text transform="translate(524.6 150.7) scale(1.02 1)" class="cb">48</text>
<line x1="503.9" y1="91.70" x2="506.1" y2="91.70" class="tk"/>
<text transform="translate(524.6 99.9) scale(1.02 1)" class="cb">54</text>
</g>
<g transform="translate(1181 0)">
<g clip-path="url(#pc)"><path d="M313.9 218.8 316.1 218.1 316.8 221 319 221.8 318.3 224 315.3 223.2 313.9 224 313.5 221.8Z" fill="#444" stroke="#000" stroke-width="1"/>
<path d="M326.1 209.5 329.8 208 331.3 210.2 329.1 211.7 326.9 211.7Z" fill="#444" stroke="#000" stroke-width="1"/>
<path d="M336.2 215.1 339.8 213.1 342.8 215.6 341.8 218.7 337.7 219.2Z" fill="#d8f0d8" stroke="#000" stroke-width="1"/>
<path d="M349.4 227.4 353.5 226.3 353.1 230.4 350.9 230Z" fill="#444" stroke="#000" stroke-width="1"/>
<path d="M392.3 209.4 397.9 208.4 400.5 210.4 397.9 213.5 393.8 213Z" fill="#d8f0d8" stroke="#000" stroke-width="1"/>
<path d="M394.4 217.5 398.5 216.5 398.5 221.1 395.4 221.6Z" fill="#d8f0d8" stroke="#000" stroke-width="1"/>
<path d="M384.7 221.8 387.6 221.3 387.6 223.3 385 223.3Z" fill="#444" stroke="#000" stroke-width="1"/>
<path d="M346.6 193.2 348.5 193.6 348.2 195.9 347 195.6Z" fill="#444" stroke="#000" stroke-width="1"/>
<path d="M340.4 200.7 342.4 200.3 342.1 202.3 340.6 202.5Z" fill="#444" stroke="#000" stroke-width="1"/>
<path d="M386 180.5 388.2 180.2 388.5 182.7 386.7 183.3Z" fill="#444" stroke="#000" stroke-width="1"/>
<path d="M364.9 173 366.8 172.6 366.4 175.2 365.3 175Z" fill="#444" stroke="#000" stroke-width="1"/>
<line x1="323.7" y1="231.5" x2="336.9" y2="223.4" stroke="#000" stroke-width="1.6"/>
<line x1="372.8" y1="227.1" x2="379.4" y2="223.4" stroke="#000" stroke-width="1.6"/>
<rect x="347.1" y="235.9" width="1.5" height="1.5" fill="#111"/>
<rect x="325.5" y="238.1" width="1.5" height="1.5" fill="#111"/>
<rect x="341.3" y="241.7" width="1.5" height="1.5" fill="#111"/>
<rect x="332.4" y="246.9" width="1.5" height="1.5" fill="#111"/>
<rect x="322.9" y="232.9" width="1.5" height="1.5" fill="#111"/>
<rect x="342" y="223" width="1.5" height="1.5" fill="#111"/>
<rect x="354.1" y="217.4" width="1.5" height="1.5" fill="#111"/>
<rect x="307.1" y="202.1" width="1.5" height="1.5" fill="#111"/>
<rect x="320" y="203.6" width="1.5" height="1.5" fill="#111"/>
<rect x="326.7" y="250.6" width="1.3" height="1.3" fill="#222"/>
<rect x="303.9" y="223.5" width="1.3" height="1.3" fill="#3cb43c"/>
<rect x="383.9" y="196" width="1.3" height="1.3" fill="#222"/>
<rect x="391.3" y="197.8" width="1.3" height="1.3" fill="#3cb43c"/>
<rect x="396.4" y="190.5" width="1.3" height="1.3" fill="#222"/>
<rect x="402.3" y="183.1" width="1.3" height="1.3" fill="#3cb43c"/>
<rect x="385" y="165.2" width="1.3" height="1.3" fill="#222"/>
<rect x="401.5" y="202.9" width="1.3" height="1.3" fill="#3cb43c"/>
<rect x="388.3" y="228.6" width="1.3" height="1.3" fill="#222"/>
<rect x="327.4" y="215.4" width="1.3" height="1.3" fill="#3cb43c"/>
<rect x="332.5" y="219.8" width="1.3" height="1.3" fill="#222"/>
<rect x="321.5" y="212.5" width="1.3" height="1.3" fill="#3cb43c"/>
<rect x="330.3" y="202.9" width="1.3" height="1.3" fill="#222"/>
<rect x="334.7" y="200.7" width="1.3" height="1.3" fill="#3cb43c"/>
<rect x="367.8" y="217.6" width="1.3" height="1.3" fill="#222"/>
<rect x="350.9" y="193.1" width="1.3" height="1.3" fill="#3cb43c"/>
<rect x="372.9" y="171.4" width="1.3" height="1.3" fill="#222"/>
<rect x="185.7" y="312.3" width="1.4" height="1.4" fill="#3cb43c"/>
<path d="M238.5 302.7 245.8 301.2 251.7 303.4 257.6 305.6 260.5 302.7 264.9 304.2 265.7 311.5 260.5 314.4 256.1 316.6 251.7 315.9 248.8 311.5 244.4 308.6 240 307.8Z" fill="#78d278" stroke="#000" stroke-width="1" stroke-linejoin="round"/>
<path d="M234.1 307.8 238.5 309.3 240 314.4 242.9 318.8 247.3 321 245.8 325.4 241.4 326.9 237.8 323.2 235.6 317.4 234.1 311.5Z" fill="#78d278" stroke="#000" stroke-width="1" stroke-linejoin="round"/>
<path d="M229 305.6 231.9 307.8 232.6 311.5 230.4 310.8Z" fill="#78d278" stroke="#000" stroke-width="1" stroke-linejoin="round"/>
<path d="M248.8 307.8 254.6 307.1 256.1 310 251 311.5Z" fill="#b4c8ff"/>
<line x1="251.1" y1="307.4" x2="252.9" y2="310.3" stroke="#e01010" stroke-width="1.2"/>
<path d="M239.7 320.3 242.2 320.3 242.9 324 240.7 324Z" fill="#b4c8ff"/></g>
<use href="#fu" stroke-width="1.15"/>
<use href="#lb" y="0"/>

<use href="#plus"/>
<text x="36.9" y="65.9" class="tt">2A25 near surface rainrate (mm/hr)</text>
<text x="439.4" y="522.6" class="pl">(c)</text>
<rect x="495.1" y="531.82" width="8.8" height="8.77" fill="#86e686"/>
<rect x="495.1" y="523.35" width="8.8" height="8.77" fill="#7fdc7f"/>
<rect x="495.1" y="514.88" width="8.8" height="8.77" fill="#7fdc7f"/>
<rect x="495.1" y="506.42" width="8.8" height="8.77" fill="#78d178"/>
<rect x="495.1" y="497.95" width="8.8" height="8.77" fill="#71c671"/>
<rect x="495.1" y="489.48" width="8.8" height="8.77" fill="#71c671"/>
<rect x="495.1" y="481.02" width="8.8" height="8.77" fill="#6abc6a"/>
<rect x="495.1" y="472.55" width="8.8" height="8.77" fill="#d2d7ff"/>
<rect x="495.1" y="464.08" width="8.8" height="8.77" fill="#b4cdff"/>
<rect x="495.1" y="455.62" width="8.8" height="8.77" fill="#b4cdff"/>
<rect x="495.1" y="447.15" width="8.8" height="8.77" fill="#96c3ff"/>
<rect x="495.1" y="438.68" width="8.8" height="8.77" fill="#82beff"/>
<rect x="495.1" y="430.22" width="8.8" height="8.77" fill="#6eb4ff"/>
<rect x="495.1" y="421.75" width="8.8" height="8.77" fill="#6eb4ff"/>
<rect x="495.1" y="413.28" width="8.8" height="8.77" fill="#55aaff"/>
<rect x="495.1" y="404.82" width="8.8" height="8.77" fill="#4a8cff"/>
<rect x="495.1" y="396.35" width="8.8" height="8.77" fill="#4670ff"/>
<rect x="495.1" y="387.88" width="8.8" height="8.77" fill="#4670ff"/>
<rect x="495.1" y="379.42" width="8.8" height="8.77" fill="#3c50ff"/>
<rect x="495.1" y="370.95" width="8.8" height="8.77" fill="#3030ff"/>
<rect x="495.1" y="362.48" width="8.8" height="8.77" fill="#0000ff"/>
<rect x="495.1" y="354.02" width="8.8" height="8.77" fill="#0000ff"/>
<rect x="495.1" y="345.55" width="8.8" height="8.77" fill="#0000f0"/>
<rect x="495.1" y="337.08" width="8.8" height="8.77" fill="#0000e1"/>
<rect x="495.1" y="328.62" width="8.8" height="8.77" fill="#0000d4"/>
<rect x="495.1" y="320.15" width="8.8" height="8.77" fill="#0000d4"/>
<rect x="495.1" y="311.68" width="8.8" height="8.77" fill="#0000c8"/>
<rect x="495.1" y="303.22" width="8.8" height="8.77" fill="#ffff00"/>
<rect x="495.1" y="294.75" width="8.8" height="8.77" fill="#fff200"/>
<rect x="495.1" y="286.28" width="8.8" height="8.77" fill="#fff200"/>
<rect x="495.1" y="277.82" width="8.8" height="8.77" fill="#ffe600"/>
<rect x="495.1" y="269.35" width="8.8" height="8.77" fill="#ffda00"/>
<rect x="495.1" y="260.88" width="8.8" height="8.77" fill="#ffda00"/>
<rect x="495.1" y="252.42" width="8.8" height="8.77" fill="#ffcd00"/>
<rect x="495.1" y="243.95" width="8.8" height="8.77" fill="#ff9600"/>
<rect x="495.1" y="235.48" width="8.8" height="8.77" fill="#ff8c00"/>
<rect x="495.1" y="227.02" width="8.8" height="8.77" fill="#ff8200"/>
<rect x="495.1" y="218.55" width="8.8" height="8.77" fill="#ff8200"/>
<rect x="495.1" y="210.08" width="8.8" height="8.77" fill="#ff7800"/>
<rect x="495.1" y="201.62" width="8.8" height="8.77" fill="#ff6e00"/>
<rect x="495.1" y="193.15" width="8.8" height="8.77" fill="#ff3c00"/>
<rect x="495.1" y="184.68" width="8.8" height="8.77" fill="#ff3200"/>
<rect x="495.1" y="176.22" width="8.8" height="8.77" fill="#ff3200"/>
<rect x="495.1" y="167.75" width="8.8" height="8.77" fill="#ff2800"/>
<rect x="495.1" y="159.28" width="8.8" height="8.77" fill="#ff1e00"/>
<rect x="495.1" y="150.82" width="8.8" height="8.77" fill="#ff1e00"/>
<rect x="495.1" y="142.35" width="8.8" height="8.77" fill="#ff1400"/>
<rect x="495.1" y="133.88" width="8.8" height="8.77" fill="#c80000"/>
<rect x="495.1" y="125.42" width="8.8" height="8.77" fill="#be0300"/>
<rect x="495.1" y="116.95" width="8.8" height="8.77" fill="#be0300"/>
<rect x="495.1" y="108.48" width="8.8" height="8.77" fill="#b40600"/>
<rect x="495.1" y="100.02" width="8.8" height="8.77" fill="#aa0900"/>
<rect x="495.1" y="91.55" width="8.8" height="8.77" fill="#aa0900"/>
<rect x="495.1" y="83.08" width="8.8" height="8.77" fill="#a00c00"/>
<rect x="495.1" y="74.62" width="8.8" height="8.77" fill="#640e06"/>
<rect x="495.1" y="66.15" width="8.8" height="8.77" fill="#62110a"/>
<rect x="495.1" y="57.68" width="8.8" height="8.77" fill="#5f140f"/>
<rect x="495.1" y="49.22" width="8.8" height="8.77" fill="#5c1714"/>
<rect x="495.1" y="40.75" width="8.8" height="8.77" fill="#5a1a18"/>
<line x1="503.9" y1="548.90" x2="506.1" y2="548.90" class="tk"/>
<text transform="translate(524.6 557.1) scale(1.02 1)" class="cb">0</text>
<line x1="503.9" y1="498.10" x2="506.1" y2="498.10" class="tk"/>
<text transform="translate(524.6 506.3) scale(1.02 1)" class="cb">6</text>
<line x1="503.9" y1="447.30" x2="506.1" y2="447.30" class="tk"/>
<text transform="translate(524.6 455.5) scale(1.02 1)" class="cb">12</text>
<line x1="503.9" y1="396.50" x2="506.1" y2="396.50" class="tk"/>
<text transform="translate(524.6 404.7) scale(1.02 1)" class="cb">18</text>
<line x1="503.9" y1="345.70" x2="506.1" y2="345.70" class="tk"/>
<text transform="translate(524.6 353.9) scale(1.02 1)" class="cb">24</text>
<line x1="503.9" y1="294.90" x2="506.1" y2="294.90" class="tk"/>
<text transform="translate(524.6 303.1) scale(1.02 1)" class="cb">30</text>
<line x1="503.9" y1="244.10" x2="506.1" y2="244.10" class="tk"/>
<text transform="translate(524.6 252.3) scale(1.02 1)" class="cb">36</text>
<line x1="503.9" y1="193.30" x2="506.1" y2="193.30" class="tk"/>
<text transform="translate(524.6 201.5) scale(1.02 1)" class="cb">42</text>
<line x1="503.9" y1="142.50" x2="506.1" y2="142.50" class="tk"/>
<text transform="translate(524.6 150.7) scale(1.02 1)" class="cb">48</text>
<line x1="503.9" y1="91.70" x2="506.1" y2="91.70" class="tk"/>
<text transform="translate(524.6 99.9) scale(1.02 1)" class="cb">54</text>
</g>
<g transform="translate(0 590.5)">
<g clip-path="url(#pc)"><g clip-path="url(#tmi)">
<path d="M12.7 209.2 79.9 171 158.7 124.4 237.9 75.2 289.1 40.5 486.4 40.5 486.4 306 474.1 314.3 395.1 367.4 316.5 418.2 238.1 464.5 159.1 512 98 548.9 12.7 548.9Z" fill="#ececec"/>
<path d="M248.4 293.4C255.5 284.9 267.3 288.7 282.3 287.7C297.4 286.8 320.9 285.9 338.8 287.7C356.7 289.6 379.3 293.4 389.6 299C400 304.7 403.3 312.7 400.9 321.6C398.6 330.6 385.8 344.2 375.5 352.7C365.1 361.1 352 368.2 338.8 372.4C325.6 376.7 309.6 379 296.4 378.1C283.3 377.1 269.2 373.4 259.7 366.8C250.3 360.2 241.9 350.8 240 338.6C238.1 326.3 241.4 301.8 248.4 293.4Z" fill="#dcdcdc" filter="url(#b10)"/>
<rect x="0" y="30" width="500" height="530" fill="#000" filter="url(#tex)" opacity="0.09"/>
<path d="M240 313.1C241.9 313.1 248 326.8 254.1 332.9C260.2 339 269.2 345.6 276.7 349.8C284.2 354.1 291.7 357.4 299.3 358.3C306.8 359.3 314.3 358.3 321.9 355.5C329.4 352.7 336.9 346.6 344.4 341.4C352 336.2 361.4 328.7 367 324.4C372.7 320.2 378.3 312.7 378.3 316C378.3 319.3 373.6 336.7 367 344.2C360.4 351.7 348.2 357.1 338.8 361.1C329.4 365.1 320 367.3 310.6 368.2C301.1 369.1 290.8 369.4 282.3 366.8C273.9 364.2 266.3 358.3 259.7 352.7C253.2 347 246.1 339.5 242.8 332.9C239.5 326.3 238.1 313.1 240 313.1Z" fill="#c4c4c4" filter="url(#b6)"/>
<path d="M271 344.2C273.4 343 287 350.6 293.6 352.7C300.2 354.8 309.6 355 310.6 356.9C311.5 358.8 304.4 363.5 299.3 364C294.1 364.4 284.2 363 279.5 359.7C274.8 356.4 268.7 345.4 271 344.2Z" fill="#b4b4b4" filter="url(#b3)"/>
<path d="M352.9 320.2C355.5 319 365.1 320 367 321.6C368.9 323.3 366.8 328.9 364.2 330.1C361.6 331.3 353.4 330.3 351.5 328.7C349.6 327 350.3 321.4 352.9 320.2Z" fill="#c0c0c0" filter="url(#b3)"/>
</g></g>
<use href="#fu" stroke-width="1.15"/>
<use href="#lb" y="0.5"/>

<use href="#plus"/>
<text x="43.2" y="65.9" class="tt">85GHz PCT (K)</text>
<text x="439.4" y="522.6" class="pl">(d)</text>
<rect x="495.1" y="531.82" width="8.8" height="8.77" fill="#f8f8f7"/>
<rect x="495.1" y="523.35" width="8.8" height="8.77" fill="#f0f0f0"/>
<rect x="495.1" y="514.88" width="8.8" height="8.77" fill="#e9e8e8"/>
<rect x="495.1" y="506.42" width="8.8" height="8.77" fill="#e2e1e0"/>
<rect x="495.1" y="497.95" width="8.8" height="8.77" fill="#dadad9"/>
<rect x="495.1" y="489.48" width="8.8" height="8.77" fill="#d3d2d1"/>
<rect x="495.1" y="481.02" width="8.8" height="8.77" fill="#cccaca"/>
<rect x="495.1" y="472.55" width="8.8" height="8.77" fill="#c4c3c2"/>
<rect x="495.1" y="464.08" width="8.8" height="8.77" fill="#bdbcba"/>
<rect x="495.1" y="455.62" width="8.8" height="8.77" fill="#b5b4b3"/>
<rect x="495.1" y="447.15" width="8.8" height="8.77" fill="#aeacab"/>
<rect x="495.1" y="438.68" width="8.8" height="8.77" fill="#a7a5a3"/>
<rect x="495.1" y="430.22" width="8.8" height="8.77" fill="#9f9e9c"/>
<rect x="495.1" y="421.75" width="8.8" height="8.77" fill="#989694"/>
<rect x="495.1" y="413.28" width="8.8" height="8.77" fill="#86e686"/>
<rect x="495.1" y="404.82" width="8.8" height="8.77" fill="#7fdc7f"/>
<rect x="495.1" y="396.35" width="8.8" height="8.77" fill="#78d178"/>
<rect x="495.1" y="387.88" width="8.8" height="8.77" fill="#71c671"/>
<rect x="495.1" y="379.42" width="8.8" height="8.77" fill="#6abc6a"/>
<rect x="495.1" y="370.95" width="8.8" height="8.77" fill="#d2d7ff"/>
<rect x="495.1" y="362.48" width="8.8" height="8.77" fill="#b4cdff"/>
<rect x="495.1" y="354.02" width="8.8" height="8.77" fill="#96c3ff"/>
<rect x="495.1" y="345.55" width="8.8" height="8.77" fill="#82beff"/>
<rect x="495.1" y="337.08" width="8.8" height="8.77" fill="#6eb4ff"/>
<rect x="495.1" y="328.62" width="8.8" height="8.77" fill="#55aaff"/>
<rect x="495.1" y="320.15" width="8.8" height="8.77" fill="#4a8cff"/>
<rect x="495.1" y="311.68" width="8.8" height="8.77" fill="#4670ff"/>
<rect x="495.1" y="303.22" width="8.8" height="8.77" fill="#3c50ff"/>
<rect x="495.1" y="294.75" width="8.8" height="8.77" fill="#3030ff"/>
<rect x="495.1" y="286.28" width="8.8" height="8.77" fill="#0000ff"/>
<rect x="495.1" y="277.82" width="8.8" height="8.77" fill="#0000f0"/>
<rect x="495.1" y="269.35" width="8.8" height="8.77" fill="#0000e1"/>
<rect x="495.1" y="260.88" width="8.8" height="8.77" fill="#0000d4"/>
<rect x="495.1" y="252.42" width="8.8" height="8.77" fill="#0000c8"/>
<rect x="495.1" y="243.95" width="8.8" height="8.77" fill="#ffff00"/>
<rect x="495.1" y="235.48" width="8.8" height="8.77" fill="#fff200"/>
<rect x="495.1" y="227.02" width="8.8" height="8.77" fill="#ffe600"/>
<rect x="495.1" y="218.55" width="8.8" height="8.77" fill="#ffda00"/>
<rect x="495.1" y="210.08" width="8.8" height="8.77" fill="#ffcd00"/>
<rect x="495.1" y="201.62" width="8.8" height="8.77" fill="#ff9600"/>
<rect x="495.1" y="193.15" width="8.8" height="8.77" fill="#ff8c00"/>
<rect x="495.1" y="184.68" width="8.8" height="8.77" fill="#ff8200"/>
<rect x="495.1" y="176.22" width="8.8" height="8.77" fill="#ff7800"/>
<rect x="495.1" y="167.75" width="8.8" height="8.77" fill="#ff6e00"/>
<rect x="495.1" y="159.28" width="8.8" height="8.77" fill="#ff3c00"/>
<rect x="495.1" y="150.82" width="8.8" height="8.77" fill="#ff3200"/>
<rect x="495.1" y="142.35" width="8.8" height="8.77" fill="#ff2800"/>
<rect x="495.1" y="133.88" width="8.8" height="8.77" fill="#ff1e00"/>
<rect x="495.1" y="125.42" width="8.8" height="8.77" fill="#ff1400"/>
<rect x="495.1" y="116.95" width="8.8" height="8.77" fill="#c80000"/>
<rect x="495.1" y="108.48" width="8.8" height="8.77" fill="#be0300"/>
<rect x="495.1" y="100.02" width="8.8" height="8.77" fill="#b40600"/>
<rect x="495.1" y="91.55" width="8.8" height="8.77" fill="#aa0900"/>
<rect x="495.1" y="83.08" width="8.8" height="8.77" fill="#a00c00"/>
<rect x="495.1" y="74.62" width="8.8" height="8.77" fill="#640e06"/>
<rect x="495.1" y="66.15" width="8.8" height="8.77" fill="#62110a"/>
<rect x="495.1" y="57.68" width="8.8" height="8.77" fill="#5f140f"/>
<rect x="495.1" y="49.22" width="8.8" height="8.77" fill="#5c1714"/>
<rect x="495.1" y="40.75" width="8.8" height="8.77" fill="#5a1a18"/>
<line x1="503.9" y1="548.90" x2="506.1" y2="548.90" class="tk"/>
<text transform="translate(524.6 557.1) scale(1.02 1)" class="cb">300</text>
<line x1="503.9" y1="498.10" x2="506.1" y2="498.10" class="tk"/>
<text transform="translate(524.6 506.3) scale(1.02 1)" class="cb">279</text>
<line x1="503.9" y1="447.30" x2="506.1" y2="447.30" class="tk"/>
<text transform="translate(524.6 455.5) scale(1.02 1)" class="cb">258</text>
<line x1="503.9" y1="396.50" x2="506.1" y2="396.50" class="tk"/>
<text transform="translate(524.6 404.7) scale(1.02 1)" class="cb">237</text>
<line x1="503.9" y1="345.70" x2="506.1" y2="345.70" class="tk"/>
<text transform="translate(524.6 353.9) scale(1.02 1)" class="cb">216</text>
<line x1="503.9" y1="294.90" x2="506.1" y2="294.90" class="tk"/>
<text transform="translate(524.6 303.1) scale(1.02 1)" class="cb">195</text>
<line x1="503.9" y1="244.10" x2="506.1" y2="244.10" class="tk"/>
<text transform="translate(524.6 252.3) scale(1.02 1)" class="cb">174</text>
<line x1="503.9" y1="193.30" x2="506.1" y2="193.30" class="tk"/>
<text transform="translate(524.6 201.5) scale(1.02 1)" class="cb">153</text>
<line x1="503.9" y1="142.50" x2="506.1" y2="142.50" class="tk"/>
<text transform="translate(524.6 150.7) scale(1.02 1)" class="cb">132</text>
<line x1="503.9" y1="91.70" x2="506.1" y2="91.70" class="tk"/>
<text transform="translate(524.6 99.9) scale(1.02 1)" class="cb">111</text>
</g>
<g transform="translate(590.5 590.5)">
<g clip-path="url(#pc)"><g clip-path="url(#tmi)" filter="url(#px)">
<rect x="-20" y="0" width="540" height="600" fill="#7cd67c"/>
<path d="M320.1 40.9C351.4 36 458.9 0.2 486.7 40.9C514.4 81.5 500.3 243.9 486.7 284.5C473 325.1 417.2 290.9 404.8 284.5C392.3 278.1 408.3 257.3 411.8 246.2C415.4 235.2 427.1 226.2 426 218C424.8 209.8 413 206.2 404.8 196.8C396.5 187.4 386 174.5 376.5 161.5C367.1 148.6 357.7 131 348.3 119.2C338.9 107.4 328.3 99.2 320.1 91C311.8 82.7 298.9 78.1 298.9 69.8C298.9 61.4 288.8 45.7 320.1 40.9Z" fill="#86e386"/>
<circle cx="330" cy="300" r="90" fill="none" stroke="#70c870" stroke-width="11" opacity="0.5"/>
<circle cx="330" cy="300" r="116" fill="none" stroke="#86e386" stroke-width="7" opacity="0.5"/>
<circle cx="330" cy="300" r="142" fill="none" stroke="#70c870" stroke-width="7" opacity="0.5"/>
<circle cx="330" cy="300" r="168" fill="none" stroke="#86e386" stroke-width="11" opacity="0.5"/>
<circle cx="330" cy="300" r="194" fill="none" stroke="#70c870" stroke-width="7" opacity="0.5"/>
<circle cx="330" cy="300" r="220" fill="none" stroke="#86e386" stroke-width="7" opacity="0.5"/>
<circle cx="330" cy="300" r="246" fill="none" stroke="#70c870" stroke-width="11" opacity="0.5"/>
<circle cx="330" cy="300" r="272" fill="none" stroke="#86e386" stroke-width="7" opacity="0.5"/>
<circle cx="330" cy="300" r="298" fill="none" stroke="#70c870" stroke-width="7" opacity="0.5"/>
<circle cx="330" cy="300" r="324" fill="none" stroke="#86e386" stroke-width="11" opacity="0.5"/>
<circle cx="330" cy="300" r="350" fill="none" stroke="#70c870" stroke-width="7" opacity="0.5"/>
<circle cx="330" cy="300" r="376" fill="none" stroke="#86e386" stroke-width="7" opacity="0.5"/>
<circle cx="330" cy="300" r="402" fill="none" stroke="#70c870" stroke-width="11" opacity="0.5"/>
<path d="M194.1 100.6 287.3 40.4 309.5 40.4 287.6 40.9 372.3 40.9 369.5 51.4 362.4 55.7 356.8 48.6 348.3 65.6 339.8 62.7 334.2 51.4 325.7 62.7 320.1 74 310.2 76.8 306 88.1 296.1 85.3 289 76.8 283.4 88.1 277.7 96.6 272.1 107.9 269.3 122 263.6 130.5 253.7 131.9 267 136.1 260.2 129.4 270.4 119.2 263.6 102.3 250 92.1 243.3 102.3 246.7 115.8 234.8 129.4 221.2 136.1 212.8 146.3 204.3 156.5 192.4 153.1 189.1 139.5 185.7 126 197.5 114.1Z" fill="#a2a2a2"/>
<path d="M291.8 43 300.3 43 284.8 71.2 273.5 93.8 267.9 91 280.6 65.6Z" fill="#86e386"/>
<path d="M315.8 43 322.9 43 311.6 67 304.6 81.1 300.3 76.8 308.8 59.9Z" fill="#86e386"/>
<path d="M334.2 41.6 339.8 41.6 334.2 58.5 328.6 57.1Z" fill="#86e386"/>
<path d="M258 68.4 266.4 62.7 263.6 74 255.1 82.5Z" fill="#86e386"/>
<path d="M124.7 181.9 131.5 178.5 139.9 187 145 197.1 139.9 200.5 133.2 192 126.4 188.7Z" fill="#a2a2a2"/>
<path d="M114.5 175.1 119.6 163.2 123 164.9 117.9 178.5Z" fill="#a2a2a2"/>
<path d="M357.5 255.3 366.3 253.5 375 260.5 382 264.9 375 267.5 364.5 264Z" fill="#a2a2a2"/>
<path d="M353.2 276.3 362.8 275.4 366.3 283.3 361 281.5Z" fill="#a2a2a2"/>
<path d="M387.3 244.8 392.5 244.8 392.5 251.8 387.3 251.8Z" fill="#a2a2a2"/>
<path d="M310.3 421.6 310.3 404.1 315.5 393.6 322.5 376 329.5 367.3 340 365.5 347 358.5 357.5 360.3 371.5 355 385.5 349.8 394.3 360.3 403.1 355 413.6 341 422.3 327 415.3 323.5 424.1 318.3 432.8 309.5 443.3 311.3 452.1 304.3 462.6 302.5 473.1 295.5 487.1 291.2 487.1 313Z" fill="#a2a2a2"/>
<path d="M336.5 379.6C338.6 375.5 344.1 371.7 347 370.8C350 369.9 354.6 371.1 354 374.3C353.5 377.5 346.7 386.6 343.5 390.1C340.3 393.6 336 397.1 334.8 395.3C333.6 393.6 334.5 383.6 336.5 379.6Z" fill="#cfcfcf" filter="url(#b3)"/>
<path d="M361 370.8C362.2 368.5 369.2 365.5 371.5 365.5C373.9 365.5 376.2 368.5 375 370.8C373.9 373.1 366.9 379.6 364.5 379.6C362.2 379.6 359.9 373.1 361 370.8Z" fill="#c4c4c4" filter="url(#b3)"/>
<path d="M-4 207.7 53.9 202.1 77.9 212 80.7 236 75.1 258.6 58.1 278.3 39.8 295.3 21.4 299.5 -4 292.4Z" fill="#d2d7ff"/>
<path d="M-4 306.5 32.7 315 46.8 327.7 53.9 339 68 327.7 77.9 315 89.2 303.7 100.5 300.9 111.8 306.5 117.4 320.7 125.9 334.8 135.8 348.9 145.7 361.6 157 367.2 166.8 363 164 374.3 154.1 380 157 388.4 168.2 394.1 182.4 388.4 193.7 377.1 190.8 385.6 185.2 396.9 202.1 403.9 213.4 402.5 207.8 412.4 199.3 419.5 188 429.5 200.9 438.9 207.7 447.4 195.8 452.4 178.9 455.8 162 464.3 178.9 469.4 162 477.9 145 482.9 128.1 489.7 114.5 496.5 104.4 506.7 94.2 513.4 77.3 510 65.4 503.3 53.5 510 36.6 518.5 23.1 520.2 -4.1 516.8Z" fill="#d2d7ff"/>
<path d="M-4.1 523.6 34.9 533.8 77.3 540.5 104.4 533.8 114.5 523.6 97.6 521.9 60.3 528.7 34.9 523.6Z" fill="#d2d7ff"/>
<path d="M58.1 348.9 72.3 346.1 83.6 341.8 94.8 337.6 111.8 341.8 117.4 356 103.3 363 89.2 360.2 72.3 363 61 367.2Z" fill="#7cd67c"/>
<path d="M37 207.7 40.1 207.7 15.8 292.4 12.7 292.4Z" fill="#7cd67c"/>
<path d="M44.7 209.1 47.8 209.1 23.6 288.2 20.5 288.2Z" fill="#7cd67c"/>
<path d="M52.5 210.6 55.6 210.6 31.3 284 28.2 284Z" fill="#7cd67c"/>
<path d="M60.3 212 63.4 212 39.1 279.7 36 279.7Z" fill="#7cd67c"/>
<path d="M68 213.4 71.1 213.4 46.8 275.5 43.7 275.5Z" fill="#7cd67c"/>
<path d="M75.8 214.8 78.9 214.8 54.6 271.3 51.5 271.3Z" fill="#7cd67c"/>
<path d="M63.8 320.7 68 322.1 80.7 339 76.5 337.6Z" fill="#7cd67c"/>
<path d="M76.5 329.1 80.7 330.5 93.4 347.5 89.2 346.1Z" fill="#7cd67c"/>
<path d="M89.2 337.6 93.4 339 106.1 356 101.9 354.5Z" fill="#7cd67c"/>
<path d="M101.9 346.1 106.1 347.5 118.8 364.4 114.6 363Z" fill="#7cd67c"/>
<path d="M114.6 354.5 118.8 356 131.5 372.9 127.3 371.5Z" fill="#7cd67c"/>
<path d="M-4.1 364.4 19.7 362.7 43.4 369.4 65.4 383 80.6 398.2 77.3 400.8 62 386 41.7 372.5 19.7 365.7 -4.1 367.4Z" fill="#aacdff"/>
<path d="M-4.1 370.5 19.7 368.8 43.4 375.5 65.4 389.1 80.6 404.3 77.3 406.9 62 392.1 41.7 378.6 19.7 371.8 -4.1 373.5Z" fill="#aacdff"/>
<path d="M-4.1 376.6 19.7 374.9 43.4 381.6 65.4 395.2 80.6 410.4 77.3 413 62 398.2 41.7 384.7 19.7 377.9 -4.1 379.6Z" fill="#aacdff"/>
<path d="M-4.1 382.7 19.7 381 43.4 387.7 65.4 401.3 80.6 416.5 77.3 419.1 62 404.3 41.7 390.8 19.7 384 -4.1 385.7Z" fill="#aacdff"/>
<path d="M-4.1 388.8 19.7 387.1 43.4 393.8 65.4 407.4 80.6 422.6 77.3 425.2 62 410.4 41.7 396.9 19.7 390.1 -4.1 391.8Z" fill="#aacdff"/>
<path d="M-4.1 394.9 19.7 393.2 43.4 399.9 65.4 413.5 80.6 428.7 77.3 431.3 62 416.5 41.7 403 19.7 396.2 -4.1 397.9Z" fill="#aacdff"/>
<path d="M-4.1 401 19.7 399.3 43.4 406 65.4 419.6 80.6 434.8 77.3 437.4 62 422.6 41.7 409.1 19.7 402.3 -4.1 404Z" fill="#aacdff"/>
<path d="M-4.1 407 19.7 405.4 43.4 412.1 65.4 425.7 80.6 440.9 77.3 443.5 62 428.7 41.7 415.2 19.7 408.4 -4.1 410.1Z" fill="#aacdff"/>
<path d="M-4.1 413.1 19.7 411.5 43.4 418.2 65.4 431.8 80.6 447 77.3 449.6 62 434.8 41.7 421.3 19.7 414.5 -4.1 416.2Z" fill="#aacdff"/>
<path d="M-4.1 419.2 19.7 417.6 43.4 424.3 65.4 437.9 80.6 453.1 77.3 455.7 62 440.9 41.7 427.4 19.7 420.6 -4.1 422.3Z" fill="#aacdff"/>
<path d="M-4.1 425.3 19.7 423.7 43.4 430.4 65.4 444 80.6 459.2 77.3 461.8 62 447 41.7 433.5 19.7 426.7 -4.1 428.4Z" fill="#aacdff"/>
<path d="M-4.1 431.4 19.7 429.7 43.4 436.5 65.4 450.1 80.6 465.3 77.3 467.9 62 453.1 41.7 439.6 19.7 432.8 -4.1 434.5Z" fill="#aacdff"/>
<path d="M-4.1 437.5 19.7 435.8 43.4 442.6 65.4 456.2 80.6 471.4 77.3 474 62 459.2 41.7 445.7 19.7 438.9 -4.1 440.6Z" fill="#aacdff"/>
<path d="M-4.1 443.6 19.7 441.9 43.4 448.7 65.4 462.3 80.6 477.5 77.3 480.1 62 465.3 41.7 451.8 19.7 445 -4.1 446.7Z" fill="#aacdff"/>
<path d="M-4.1 449.7 19.7 448 43.4 454.8 65.4 468.4 80.6 483.6 77.3 486.2 62 471.4 41.7 457.9 19.7 451.1 -4.1 452.8Z" fill="#aacdff"/>
<path d="M-4.1 455.8 19.7 454.1 43.4 460.9 65.4 474.5 80.6 489.7 77.3 492.3 62 477.5 41.7 464 19.7 457.2 -4.1 458.9Z" fill="#aacdff"/>
<path d="M-4 214.8 25.7 212 32.7 236 21.4 264.2 -4 278.3Z" fill="#aacdff" opacity="0.6"/>
<path d="M-4.1 377.9C1 366.1 18 375.7 26.4 377.9C34.9 380.2 41.1 385.8 46.8 391.5C52.4 397.1 56.4 405 60.3 411.8C64.3 418.6 70.5 427 70.5 432.1C70.5 437.2 64.8 441.2 60.3 442.3C55.8 443.4 49 438.3 43.4 438.9C37.7 439.5 34.3 444 26.4 445.7C18.5 447.4 1 460.4 -4.1 449.1C-9.1 437.8 -9.1 389.8 -4.1 377.9Z" fill="#aacdff"/>
<path d="M19.7 398.2C21.9 394.9 32.1 398.8 36.6 401.6C41.1 404.5 46.2 411.2 46.8 415.2C47.3 419.1 43.9 424.2 40 425.3C36 426.5 26.4 426.5 23.1 422C19.7 417.4 17.4 401.6 19.7 398.2Z" fill="#86bcff"/>
<path d="M191.3 271 200 257 210.5 246.5 217.5 253.5 224.5 264 235 260.5 242 267.5 249 257 247.3 250 256 243 259.5 234.3 266.5 223.8 273.5 232.5 284 229 294.5 227.3 303.3 236 305 246.5 312 253.5 317.3 246.5 315.5 236 317.3 218.5 324.3 211.5 326 197.5 341.8 185.3 348.8 195.8 343.5 204.5 354 211.5 361 220.3 357.5 232.5 347 236 343.5 246.5 336.5 244.8 329.5 239.5 322.5 246.5 319 257 312 260.5 308.5 267.5 315.5 278 312 285 319 292 329.5 295.5 340 292 338.3 299 326 302.5 322.5 314.8 329.5 320 319 323.5 312 327 301.5 323.5 294.5 328.8 287.5 327 282.3 328.8 287.5 334 294.5 332.3 305 330.5 312 337.5 322.5 334 334.8 337.5 341.8 330.5 347 323.5 357.5 316.5 373.3 311.3 378.5 318.3 369.8 323.5 369.8 330.5 385.5 334 378.5 341 364.5 337.5 354 344.5 343.5 348 340 355 326 358.5 315.5 360.3 301.5 363.8 289.3 367.3 277 362 263 358.5 259.5 355 247.3 342.8 238.5 337.5 228 332.3 215.8 320 207 309.5 200 295.5 193 281.5Z" fill="#d2d7ff"/>
<path d="M396 207.1 402.2 203.6 406.6 211.5 402.2 214.1Z" fill="#d2d7ff"/>
<path d="M201.8 281.5 207 274.5 217.5 274.5 224.5 281.5 235 283.3 247.3 281.5 252.5 267.5 259.5 255.3 270 253.5 280.5 257 287.5 250 294.5 257 298 267.5 303.3 274.5 301.5 283.3 305 292 312 299 315.5 307.8 308.5 313 298 309.5 287.5 314.8 280.5 323.5 287.5 334 298 337.5 312 339.3 322.5 344.5 329.5 351.5 319 358.5 305 362 287.5 363.8 273.5 356.8 263 348 249 337.5 238.5 327 228 320 217.5 309.5 208.8 297.3Z" fill="#aacdff"/>
<path d="M350.5 323.5 361 318.3 371.5 316.5 368 327 357.5 328.8Z" fill="#aacdff"/>
<path d="M322.5 218.5 340 209.8 350.5 215 347 225.5 333 230.8 324.3 229Z" fill="#aacdff"/>
</g><g clip-path="url(#tmi)" filter="url(#px2)">
<path d="M224.5 292C225.1 289.7 231.2 288.5 235 288.5C238.8 288.5 243.8 290 247.3 292C250.8 294.1 252.8 297.9 256 300.8C259.2 303.7 263 307.2 266.5 309.5C270 311.9 275.9 312.7 277 314.8C278.2 316.8 276.4 321.2 273.5 321.8C270.6 322.4 264.2 319.7 259.5 318.3C254.8 316.8 250.2 315.7 245.5 313C240.8 310.4 235 306 231.5 302.5C228 299 223.9 294.4 224.5 292Z" fill="#86bcff"/>
<path d="M240.3 318.3C241.1 316.8 245.8 319.2 249 320C252.2 320.9 256 321.8 259.5 323.5C263 325.3 266.5 328.2 270 330.5C273.5 332.9 276.4 335.8 280.5 337.5C284.6 339.3 289.9 339.6 294.5 341C299.2 342.5 304.4 344.8 308.5 346.3C312.6 347.8 317.9 348.3 319 349.8C320.2 351.3 318.4 353.6 315.5 355C312.6 356.5 306.2 357.7 301.5 358.5C296.9 359.4 292.2 360.9 287.5 360.3C282.9 359.7 277.6 357.1 273.5 355C269.4 353 266.5 350.7 263 348C259.5 345.4 255.7 342.5 252.5 339.3C249.3 336.1 245.8 332.3 243.8 328.8C241.7 325.3 239.4 319.7 240.3 318.3Z" fill="#4878ff"/>
<path d="M254.3 330.5C255.4 329.7 260.1 329.7 263 330.5C265.9 331.4 268.9 334 271.8 335.8C274.7 337.5 277.3 339.9 280.5 341C283.7 342.2 287.5 341.6 291 342.8C294.5 344 300.9 346.3 301.5 348C302.1 349.8 297.4 352.1 294.5 353.3C291.6 354.5 287.2 355.6 284 355C280.8 354.5 278.5 351.8 275.3 349.8C272.1 347.8 268 345.1 264.8 342.8C261.6 340.5 257.8 337.8 256 335.8C254.3 333.7 253.1 331.4 254.3 330.5Z" fill="#1414e6"/>
</g></g>
<use href="#fu" stroke-width="1.15"/>
<use href="#lb" y="0.5"/>

<use href="#plus"/>
<text x="43.2" y="65.9" class="tt">37GHz PCT (K)</text>
<text x="439.4" y="522.6" class="pl">(e)</text>
<rect x="495.1" y="531.82" width="8.8" height="8.77" fill="#f8f8f7"/>
<rect x="495.1" y="523.35" width="8.8" height="8.77" fill="#f0f0f0"/>
<rect x="495.1" y="514.88" width="8.8" height="8.77" fill="#e9e8e8"/>
<rect x="495.1" y="506.42" width="8.8" height="8.77" fill="#e2e1e0"/>
<rect x="495.1" y="497.95" width="8.8" height="8.77" fill="#dadad9"/>
<rect x="495.1" y="489.48" width="8.8" height="8.77" fill="#d3d2d1"/>
<rect x="495.1" y="481.02" width="8.8" height="8.77" fill="#cccaca"/>
<rect x="495.1" y="472.55" width="8.8" height="8.77" fill="#c4c3c2"/>
<rect x="495.1" y="464.08" width="8.8" height="8.77" fill="#bdbcba"/>
<rect x="495.1" y="455.62" width="8.8" height="8.77" fill="#b5b4b3"/>
<rect x="495.1" y="447.15" width="8.8" height="8.77" fill="#aeacab"/>
<rect x="495.1" y="438.68" width="8.8" height="8.77" fill="#a7a5a3"/>
<rect x="495.1" y="430.22" width="8.8" height="8.77" fill="#9f9e9c"/>
<rect x="495.1" y="421.75" width="8.8" height="8.77" fill="#989694"/>
<rect x="495.1" y="413.28" width="8.8" height="8.77" fill="#86e686"/>
<rect x="495.1" y="404.82" width="8.8" height="8.77" fill="#7fdc7f"/>
<rect x="495.1" y="396.35" width="8.8" height="8.77" fill="#78d178"/>
<rect x="495.1" y="387.88" width="8.8" height="8.77" fill="#71c671"/>
<rect x="495.1" y="379.42" width="8.8" height="8.77" fill="#6abc6a"/>
<rect x="495.1" y="370.95" width="8.8" height="8.77" fill="#d2d7ff"/>
<rect x="495.1" y="362.48" width="8.8" height="8.77" fill="#b4cdff"/>
<rect x="495.1" y="354.02" width="8.8" height="8.77" fill="#96c3ff"/>
<rect x="495.1" y="345.55" width="8.8" height="8.77" fill="#82beff"/>
<rect x="495.1" y="337.08" width="8.8" height="8.77" fill="#6eb4ff"/>
<rect x="495.1" y="328.62" width="8.8" height="8.77" fill="#55aaff"/>
<rect x="495.1" y="320.15" width="8.8" height="8.77" fill="#4a8cff"/>
<rect x="495.1" y="311.68" width="8.8" height="8.77" fill="#4670ff"/>
<rect x="495.1" y="303.22" width="8.8" height="8.77" fill="#3c50ff"/>
<rect x="495.1" y="294.75" width="8.8" height="8.77" fill="#3030ff"/>
<rect x="495.1" y="286.28" width="8.8" height="8.77" fill="#0000ff"/>
<rect x="495.1" y="277.82" width="8.8" height="8.77" fill="#0000f0"/>
<rect x="495.1" y="269.35" width="8.8" height="8.77" fill="#0000e1"/>
<rect x="495.1" y="260.88" width="8.8" height="8.77" fill="#0000d4"/>
<rect x="495.1" y="252.42" width="8.8" height="8.77" fill="#0000c8"/>
<rect x="495.1" y="243.95" width="8.8" height="8.77" fill="#ffff00"/>
<rect x="495.1" y="235.48" width="8.8" height="8.77" fill="#fff200"/>
<rect x="495.1" y="227.02" width="8.8" height="8.77" fill="#ffe600"/>
<rect x="495.1" y="218.55" width="8.8" height="8.77" fill="#ffda00"/>
<rect x="495.1" y="210.08" width="8.8" height="8.77" fill="#ffcd00"/>
<rect x="495.1" y="201.62" width="8.8" height="8.77" fill="#ff9600"/>
<rect x="495.1" y="193.15" width="8.8" height="8.77" fill="#ff8c00"/>
<rect x="495.1" y="184.68" width="8.8" height="8.77" fill="#ff8200"/>
<rect x="495.1" y="176.22" width="8.8" height="8.77" fill="#ff7800"/>
<rect x="495.1" y="167.75" width="8.8" height="8.77" fill="#ff6e00"/>
<rect x="495.1" y="159.28" width="8.8" height="8.77" fill="#ff3c00"/>
<rect x="495.1" y="150.82" width="8.8" height="8.77" fill="#ff3200"/>
<rect x="495.1" y="142.35" width="8.8" height="8.77" fill="#ff2800"/>
<rect x="495.1" y="133.88" width="8.8" height="8.77" fill="#ff1e00"/>
<rect x="495.1" y="125.42" width="8.8" height="8.77" fill="#ff1400"/>
<rect x="495.1" y="116.95" width="8.8" height="8.77" fill="#c80000"/>
<rect x="495.1" y="108.48" width="8.8" height="8.77" fill="#be0300"/>
<rect x="495.1" y="100.02" width="8.8" height="8.77" fill="#b40600"/>
<rect x="495.1" y="91.55" width="8.8" height="8.77" fill="#aa0900"/>
<rect x="495.1" y="83.08" width="8.8" height="8.77" fill="#a00c00"/>
<rect x="495.1" y="74.62" width="8.8" height="8.77" fill="#640e06"/>
<rect x="495.1" y="66.15" width="8.8" height="8.77" fill="#62110a"/>
<rect x="495.1" y="57.68" width="8.8" height="8.77" fill="#5f140f"/>
<rect x="495.1" y="49.22" width="8.8" height="8.77" fill="#5c1714"/>
<rect x="495.1" y="40.75" width="8.8" height="8.77" fill="#5a1a18"/>
<line x1="503.9" y1="548.90" x2="506.1" y2="548.90" class="tk"/>
<text transform="translate(524.6 557.1) scale(1.02 1)" class="cb">315</text>
<line x1="503.9" y1="498.10" x2="506.1" y2="498.10" class="tk"/>
<text transform="translate(524.6 506.3) scale(1.02 1)" class="cb">306</text>
<line x1="503.9" y1="447.30" x2="506.1" y2="447.30" class="tk"/>
<text transform="translate(524.6 455.5) scale(1.02 1)" class="cb">297</text>
<line x1="503.9" y1="396.50" x2="506.1" y2="396.50" class="tk"/>
<text transform="translate(524.6 404.7) scale(1.02 1)" class="cb">288</text>
<line x1="503.9" y1="345.70" x2="506.1" y2="345.70" class="tk"/>
<text transform="translate(524.6 353.9) scale(1.02 1)" class="cb">279</text>
<line x1="503.9" y1="294.90" x2="506.1" y2="294.90" class="tk"/>
<text transform="translate(524.6 303.1) scale(1.02 1)" class="cb">270</text>
<line x1="503.9" y1="244.10" x2="506.1" y2="244.10" class="tk"/>
<text transform="translate(524.6 252.3) scale(1.02 1)" class="cb">261</text>
<line x1="503.9" y1="193.30" x2="506.1" y2="193.30" class="tk"/>
<text transform="translate(524.6 201.5) scale(1.02 1)" class="cb">252</text>
<line x1="503.9" y1="142.50" x2="506.1" y2="142.50" class="tk"/>
<text transform="translate(524.6 150.7) scale(1.02 1)" class="cb">243</text>
<line x1="503.9" y1="91.70" x2="506.1" y2="91.70" class="tk"/>
<text transform="translate(524.6 99.9) scale(1.02 1)" class="cb">234</text>
</g>
<g transform="translate(1181 590.5)">
<g clip-path="url(#pc)"><path d="M231.4 304.7 242.7 294.5 255.1 292.2 270.9 288.9 280 295.6 291.3 289.3 296.9 293.4 309.3 291.1 322.9 287.7 336.4 285.5 350 293.4 354.5 292.2 363.5 302.4 374.8 300.1 374.8 303.5 365.8 309.2 368 320.5 372.5 327.2 365.8 336.3 363.5 340.8 352.2 345.3 359 349.8 347.7 351 345.5 353.2 336.4 354.3 327.4 357.7 318.4 360 309.3 361.1 293.5 363.4 282.2 361.1 274.3 358.9 261.9 347.6 252.9 343 248.4 334 241.6 322.7 235.9 313.7Z" fill="#86e486" stroke="#000" stroke-width="1.3" stroke-linejoin="round"/>
<g clip-path="url(#fmain)">
<path d="M252.9 295.6C255.1 293.7 260.8 298.6 264.2 302.4C267.5 306.2 269.1 313.3 273.2 318.2C277.3 323.1 283 328.4 289 331.8C295 335.1 304.4 336.7 309.3 338.5C314.2 340.4 318.4 341.5 318.4 343C318.4 344.6 314.6 347.2 309.3 347.6C304.1 347.9 294.3 347.9 286.7 345.3C279.2 342.7 270.2 337 264.2 331.8C258.1 326.5 252.5 319.7 250.6 313.7C248.7 307.7 250.6 297.5 252.9 295.6Z" fill="#7ad47a" filter="url(#b2)"/>
</g>
<rect x="254" y="308" width="6.8" height="4.5" fill="#1428f0"/>
<rect x="270.9" y="312.6" width="9" height="6.8" fill="#5a9cff"/>
<rect x="267.5" y="319.3" width="5.6" height="4.5" fill="#78b0ff"/>
<rect x="291.3" y="309.2" width="12.4" height="5.6" fill="#c0d0ff"/>
<rect x="286.7" y="318.2" width="6.8" height="4.5" fill="#c8d4ff"/>
<rect x="246.1" y="320.5" width="7.9" height="5.6" fill="#c8d4ff"/>
<rect x="296.9" y="335.1" width="9" height="5.6" fill="#c8d4ff"/>
<rect x="264.2" y="317.1" width="5.6" height="4.5" fill="#c8d4ff"/>
<ellipse cx="307.1" cy="357" rx="4" ry="7.2" transform="rotate(15 307.1 357)" fill="#fff" stroke="#000" stroke-width="1.3"/>
<path d="M310.5 217.7 316.1 207.6 318.4 205.3 327.4 196.3 342.1 192.2 340.9 198.5 347.7 203 354.5 212.1 361.3 222.2 354.5 227.9 356.7 230.1 350 236.9 342.1 243.7 348.8 232.4 352.2 225.6 340.9 223.4 331.9 229 329.6 227.9 336.4 216.6 329.6 218.9 324 223.4 313.8 224.5Z" fill="#86e486" stroke="#000" stroke-width="1.3" stroke-linejoin="round"/>
<ellipse cx="321.1" cy="200.3" rx="6.3" ry="4.5" transform="rotate(-12 321.1 200.3)" fill="#fff" stroke="#000" stroke-width="1.3"/>
<path d="M342.1 172.6 347.7 165.8 352.2 166.9 353.4 173.7 347.7 172.6Z" fill="#86e486" stroke="#000" stroke-width="1" stroke-linejoin="round"/>
<path d="M351.1 191.8 354.5 185.7 357.9 191.8 353.4 194Z" fill="#86e486" stroke="#000" stroke-width="1" stroke-linejoin="round"/>
<path d="M398.5 207.6 404.2 204.2 405.3 209.8 401.9 216.6 399.6 212.1Z" fill="#86e486" stroke="#000" stroke-width="1" stroke-linejoin="round"/>
<path d="M383.8 218.9 388.4 216.6 391.7 218.9 386.1 221.1Z" fill="#86e486" stroke="#000" stroke-width="1" stroke-linejoin="round"/>
<path d="M340.9 362.2 344.3 355.5 346.6 356.6 343.2 363.4Z" fill="#86e486" stroke="#000" stroke-width="1" stroke-linejoin="round"/>
<path d="M350 347.6 359 347.6 356.7 351Z" fill="#86e486" stroke="#000" stroke-width="1" stroke-linejoin="round"/>
<path d="M291.3 378 296.9 375.8 299.2 380.3 294.6 383.7Z" fill="#86e486" stroke="#000" stroke-width="1" stroke-linejoin="round"/>
<path d="M347.7 374.7 354.5 370.1 363.5 363.4 377.1 358.9 381.6 354.3 390.6 347.6 399.6 340.8 406.4 334 414.3 330.6 410.9 335.1 401.9 343 395.1 347.6 390.6 353.2 391.7 360 386.1 364.5 383.8 370.1 377.1 375.8 370.3 378 366.9 372.4 359 374.7 352.2 376.9Z" fill="#78d278" stroke="#000" stroke-width="1.3" stroke-linejoin="round"/>
<ellipse cx="397.8" cy="336.7" rx="5" ry="6.3" transform="rotate(-35 397.8 336.7)" fill="#fff" stroke="#000" stroke-width="1.3"/>
<line x1="452.7" y1="328.4" x2="485.5" y2="305.8" stroke="#55aaff" stroke-width="1.3"/>
<line x1="365.8" y1="386" x2="390.6" y2="370.1" stroke="#55aaff" stroke-width="1.3"/>
<line x1="308.2" y1="421" x2="321.7" y2="413" stroke="#55aaff" stroke-width="1.3"/>
<rect x="223.8" y="262.1" width="1.6" height="1.6" fill="#6cd06c"/>
<rect x="435" y="302.7" width="1.6" height="1.6" fill="#6cd06c"/>
<rect x="416.9" y="312.9" width="1.6" height="1.6" fill="#6cd06c"/>
<rect x="374" y="333.2" width="1.6" height="1.6" fill="#6cd06c"/>
<path d="M160.2 122.9 170.5 116.3 182.2 109.7 191 103.8 195.4 106.8 194 112.6 185.2 114.1 176.4 119.2 167.6 124.4 161.7 125.1Z" fill="#78d278" stroke="#000" stroke-width="1.2" stroke-linejoin="round"/>
<path d="M184.4 109 189.6 107.9 189.9 110.9 184.9 111.7Z" fill="#c8d4ff"/>
<path d="M216 88.4 220.4 87.7 220.4 92.8 216.7 92.8Z" fill="#222" stroke="#86e486" stroke-width="1"/>
<path d="M76.5 173.6 85.3 169.1 88.3 174.3 82.4 176.5Z" fill="#111" stroke="#86e486" stroke-width="1.2"/>
<line x1="96.4" y1="170.6" x2="100" y2="168.4" stroke="#86e486" stroke-width="1"/>
<line x1="108.8" y1="175" x2="116.9" y2="177.2" stroke="#86e486" stroke-width="1.4"/></g>
<use href="#fu" stroke-width="0.75"/>
<use href="#lb" y="0.5"/>

<use href="#plus"/>
<text x="36.9" y="65.9" class="tt">2A12 rainrate (mm/hr)</text>
<text x="439.4" y="522.6" class="pl">(f)</text>
<rect x="495.1" y="531.82" width="8.8" height="8.77" fill="#86e686"/>
<rect x="495.1" y="523.35" width="8.8" height="8.77" fill="#7fdc7f"/>
<rect x="495.1" y="514.88" width="8.8" height="8.77" fill="#7fdc7f"/>
<rect x="495.1" y="506.42" width="8.8" height="8.77" fill="#78d178"/>
<rect x="495.1" y="497.95" width="8.8" height="8.77" fill="#71c671"/>
<rect x="495.1" y="489.48" width="8.8" height="8.77" fill="#71c671"/>
<rect x="495.1" y="481.02" width="8.8" height="8.77" fill="#6abc6a"/>
<rect x="495.1" y="472.55" width="8.8" height="8.77" fill="#d2d7ff"/>
<rect x="495.1" y="464.08" width="8.8" height="8.77" fill="#b4cdff"/>
<rect x="495.1" y="455.62" width="8.8" height="8.77" fill="#b4cdff"/>
<rect x="495.1" y="447.15" width="8.8" height="8.77" fill="#96c3ff"/>
<rect x="495.1" y="438.68" width="8.8" height="8.77" fill="#82beff"/>
<rect x="495.1" y="430.22" width="8.8" height="8.77" fill="#6eb4ff"/>
<rect x="495.1" y="421.75" width="8.8" height="8.77" fill="#6eb4ff"/>
<rect x="495.1" y="413.28" width="8.8" height="8.77" fill="#55aaff"/>
<rect x="495.1" y="404.82" width="8.8" height="8.77" fill="#4a8cff"/>
<rect x="495.1" y="396.35" width="8.8" height="8.77" fill="#4670ff"/>
<rect x="495.1" y="387.88" width="8.8" height="8.77" fill="#4670ff"/>
<rect x="495.1" y="379.42" width="8.8" height="8.77" fill="#3c50ff"/>
<rect x="495.1" y="370.95" width="8.8" height="8.77" fill="#3030ff"/>
<rect x="495.1" y="362.48" width="8.8" height="8.77" fill="#0000ff"/>
<rect x="495.1" y="354.02" width="8.8" height="8.77" fill="#0000ff"/>
<rect x="495.1" y="345.55" width="8.8" height="8.77" fill="#0000f0"/>
<rect x="495.1" y="337.08" width="8.8" height="8.77" fill="#0000e1"/>
<rect x="495.1" y="328.62" width="8.8" height="8.77" fill="#0000d4"/>
<rect x="495.1" y="320.15" width="8.8" height="8.77" fill="#0000d4"/>
<rect x="495.1" y="311.68" width="8.8" height="8.77" fill="#0000c8"/>
<rect x="495.1" y="303.22" width="8.8" height="8.77" fill="#ffff00"/>
<rect x="495.1" y="294.75" width="8.8" height="8.77" fill="#fff200"/>
<rect x="495.1" y="286.28" width="8.8" height="8.77" fill="#fff200"/>
<rect x="495.1" y="277.82" width="8.8" height="8.77" fill="#ffe600"/>
<rect x="495.1" y="269.35" width="8.8" height="8.77" fill="#ffda00"/>
<rect x="495.1" y="260.88" width="8.8" height="8.77" fill="#ffda00"/>
<rect x="495.1" y="252.42" width="8.8" height="8.77" fill="#ffcd00"/>
<rect x="495.1" y="243.95" width="8.8" height="8.77" fill="#ff9600"/>
<rect x="495.1" y="235.48" width="8.8" height="8.77" fill="#ff8c00"/>
<rect x="495.1" y="227.02" width="8.8" height="8.77" fill="#ff8200"/>
<rect x="495.1" y="218.55" width="8.8" height="8.77" fill="#ff8200"/>
<rect x="495.1" y="210.08" width="8.8" height="8.77" fill="#ff7800"/>
<rect x="495.1" y="201.62" width="8.8" height="8.77" fill="#ff6e00"/>
<rect x="495.1" y="193.15" width="8.8" height="8.77" fill="#ff3c00"/>
<rect x="495.1" y="184.68" width="8.8" height="8.77" fill="#ff3200"/>
<rect x="495.1" y="176.22" width="8.8" height="8.77" fill="#ff3200"/>
<rect x="495.1" y="167.75" width="8.8" height="8.77" fill="#ff2800"/>
<rect x="495.1" y="159.28" width="8.8" height="8.77" fill="#ff1e00"/>
<rect x="495.1" y="150.82" width="8.8" height="8.77" fill="#ff1e00"/>
<rect x="495.1" y="142.35" width="8.8" height="8.77" fill="#ff1400"/>
<rect x="495.1" y="133.88" width="8.8" height="8.77" fill="#c80000"/>
<rect x="495.1" y="125.42" width="8.8" height="8.77" fill="#be0300"/>
<rect x="495.1" y="116.95" width="8.8" height="8.77" fill="#be0300"/>
<rect x="495.1" y="108.48" width="8.8" height="8.77" fill="#b40600"/>
<rect x="495.1" y="100.02" width="8.8" height="8.77" fill="#aa0900"/>
<rect x="495.1" y="91.55" width="8.8" height="8.77" fill="#aa0900"/>
<rect x="495.1" y="83.08" width="8.8" height="8.77" fill="#a00c00"/>
<rect x="495.1" y="74.62" width="8.8" height="8.77" fill="#640e06"/>
<rect x="495.1" y="66.15" width="8.8" height="8.77" fill="#62110a"/>
<rect x="495.1" y="57.68" width="8.8" height="8.77" fill="#5f140f"/>
<rect x="495.1" y="49.22" width="8.8" height="8.77" fill="#5c1714"/>
<rect x="495.1" y="40.75" width="8.8" height="8.77" fill="#5a1a18"/>
<line x1="503.9" y1="548.90" x2="506.1" y2="548.90" class="tk"/>
<text transform="translate(524.6 557.1) scale(1.02 1)" class="cb">0</text>
<line x1="503.9" y1="498.10" x2="506.1" y2="498.10" class="tk"/>
<text transform="translate(524.6 506.3) scale(1.02 1)" class="cb">6</text>
<line x1="503.9" y1="447.30" x2="506.1" y2="447.30" class="tk"/>
<text transform="translate(524.6 455.5) scale(1.02 1)" class="cb">12</text>
<line x1="503.9" y1="396.50" x2="506.1" y2="396.50" class="tk"/>
<text transform="translate(524.6 404.7) scale(1.02 1)" class="cb">18</text>
<line x1="503.9" y1="345.70" x2="506.1" y2="345.70" class="tk"/>
<text transform="translate(524.6 353.9) scale(1.02 1)" class="cb">24</text>
<line x1="503.9" y1="294.90" x2="506.1" y2="294.90" class="tk"/>
<text transform="translate(524.6 303.1) scale(1.02 1)" class="cb">30</text>
<line x1="503.9" y1="244.10" x2="506.1" y2="244.10" class="tk"/>
<text transform="translate(524.6 252.3) scale(1.02 1)" class="cb">36</text>
<line x1="503.9" y1="193.30" x2="506.1" y2="193.30" class="tk"/>
<text transform="translate(524.6 201.5) scale(1.02 1)" class="cb">42</text>
<line x1="503.9" y1="142.50" x2="506.1" y2="142.50" class="tk"/>
<text transform="translate(524.6 150.7) scale(1.02 1)" class="cb">48</text>
<line x1="503.9" y1="91.70" x2="506.1" y2="91.70" class="tk"/>
<text transform="translate(524.6 99.9) scale(1.02 1)" class="cb">54</text>
</g>
<g transform="translate(0 1181)">
<g clip-path="url(#pc)"><g clip-path="url(#virs)">
<path d="M12.7 221.6 80 182.4 158.6 134 237.4 86.3 307 41 486.4 41 486.4 302.5 445.6 327.4 363.7 379.8 285.1 428.9 200 479.7 84.7 548.9 12.7 548.9Z" fill="#dedede"/>
<path d="M0 225 320 30 500 30 500 120 330 170 250 215 180 250 100 270 0 290Z" fill="#bcbcbc" filter="url(#b10)"/>
<path d="M320 30 500 30 500 320 440 330 400 250 380 150 330 120Z" fill="#cfcfcf" filter="url(#b10)"/>
<path d="M182.3 291.9C184.6 284.6 195.1 284.9 201.5 282.3C207.9 279.8 215.9 274.3 220.7 276.6C225.5 278.8 229.4 287.8 230.3 295.8C231.3 303.8 225.8 315 226.5 324.6C227.1 334.2 231.6 342.2 234.2 353.4C236.7 364.6 236.7 380.5 241.8 391.7C247 402.9 257.8 414.1 264.9 420.5C271.9 426.9 283.4 426.6 284.1 430.1C284.7 433.7 276.1 441.6 268.7 441.6C261.4 441.6 248.9 438.4 239.9 430.1C231 421.8 221 404.5 215 391.7C208.9 378.9 207.9 364.2 203.5 353.4C199 342.5 191.6 336.7 188.1 326.5C184.6 316.2 180.1 299.3 182.3 291.9Z" fill="#c4c4c4" filter="url(#b6)"/>
<path d="M71 361C72.3 358.8 78.7 357.5 80.6 359.1C82.5 360.7 83.8 368.4 82.5 370.6C81.3 372.9 74.9 374.2 72.9 372.6C71 371 69.7 363.3 71 361Z" fill="#cdcdcd" filter="url(#b3)"/>
<path d="M80.6 378.3C82.2 376.1 92.8 378 96 380.2C99.2 382.5 101.4 389.5 99.8 391.7C98.2 394 89.6 395.9 86.4 393.7C83.2 391.4 79 380.5 80.6 378.3Z" fill="#cdcdcd" filter="url(#b3)"/>
<path d="M86.4 410.9C88.6 408.4 100.4 408.7 103.6 410.9C106.8 413.2 107.8 421.8 105.6 424.4C103.3 426.9 93.4 428.5 90.2 426.3C87 424.1 84.1 413.5 86.4 410.9Z" fill="#cdcdcd" filter="url(#b3)"/>
<path d="M138.2 430.1C139.2 427.9 148.4 432.7 151.6 435.9C154.8 439.1 158.3 447.1 157.4 449.3C156.4 451.6 149.1 452.5 145.9 449.3C142.7 446.1 137.2 432.4 138.2 430.1Z" fill="#cdcdcd" filter="url(#b3)"/>
<path d="M19.2 382.1C22.4 376.7 41.6 375.1 48 378.3C54.4 381.5 60.8 395.9 57.6 401.3C54.4 406.8 35.2 414.1 28.8 410.9C22.4 407.7 16 387.6 19.2 382.1Z" fill="#cdcdcd" filter="url(#b3)"/>
<g mask="url(#gupm)"><rect x="0" y="30" width="500" height="530" fill="#000" filter="url(#cl)" opacity="0.13"/></g>
<g clip-path="url(#gur)"><rect x="0" y="30" width="500" height="530" fill="#fff" filter="url(#cw)" opacity="0.5"/></g>
<rect x="0" y="30" width="500" height="530" fill="#000" filter="url(#cl)" opacity="0.025"/>
<g filter="url(#rg)">
<path d="M228.1 84.6 304.4 36.3 393 36.3 391.5 49.6 385.6 54 376.8 61.3 370.9 58.4 368 49.6 357.7 48.1 354.8 43.7 351.9 49.6 347.4 58.4 341.6 68.6 335.7 73 331.3 81.9 322.5 78.9 315.1 77.4 309.3 65.7 303.4 64.2 299 71.6 293.1 77.4 278.4 77.4 272.6 73 262.3 71.6 249.1 78.9 238.8 87.7 230 93.6Z" fill="#80d880" stroke="#000" stroke-width="1.1" stroke-linejoin="round"/>
<path d="M388.6 49.6 395.9 45.1 400.3 58.4 401.8 64.2 395.9 62.8 391.5 55.4Z" fill="#80d880" stroke="#000" stroke-width="1.1" stroke-linejoin="round"/>
<path d="M417.9 64.2 425.3 61.3 426.7 65.7 420.9 68.6Z" fill="#80d880" stroke="#000" stroke-width="1.1" stroke-linejoin="round"/>
<path d="M403.2 67.2 409.1 65.7 415 73 416.4 78.9 410.6 76 406.2 71.6Z" fill="#80d880" stroke="#000" stroke-width="1.1" stroke-linejoin="round"/>
<path d="M343 78.9 351.9 74.5 354.8 80.4 347.4 87.7Z" fill="#80d880" stroke="#000" stroke-width="1.1" stroke-linejoin="round"/>
<path d="M230 109 238.8 109.7 249.1 112.7 252 118.6 259.4 117.1 265.2 111.2 274 108.3 282.9 109 288.7 106.8 299 111.2 303.4 120 306.3 130.3 312.2 133.2 321 130.3 325.4 120 332.8 112.7 335.7 102.4 344.5 100.9 356.3 96.5 362.1 90.7 365.1 84.8 376.8 75.2 370.9 84.1 365.1 92.1 365.1 108.3 370.9 114.1 376.8 117.1 378.3 124.4 385.6 131.8 388.6 140.6 382.7 145 388.6 150.9 397.4 153.8 398.8 161.1 391.5 164.1 397.4 169.9 406.2 172.9 407.6 181.7 403.2 189 400.3 194.9 406.2 202.2 410.6 211 419.4 212.5 420.9 216.9 413.5 218.4 412 224.3 417.8 242.3 426 248.8 421.1 263.6 417.8 279.9 424.3 288.1 419.4 297.9 429.2 304.5 435.8 311 445.6 307.8 455.4 301.2 462 288.1 458.7 281.6 468.5 284.8 478.4 296.3 494.7 293 494.7 311 452.2 337.2 370.3 389.6 291.7 438.8 278.6 425.7 272 420.8 285.1 419.1 293.3 415.8 285.1 414.2 273.7 409.3 265.5 402.7 254 396.2 249.1 389.6 245.8 379.8 237.7 370 239.3 356.9 237.7 343.8 239.3 330.7 239.3 320.9 232.7 312.7 229.5 304.5 236 296.3 237.7 288.1 232.7 278.3 229.5 270.1 232.7 260.3 229.5 252.1 231.1 239 234.9 289 229 271.2 234.9 258 232 243.3 237.8 231.6 234.9 219.9 229 208.1 234.9 197.8 229 190.5 220.2 199.3 214.3 193.4 209.9 189 218.7 184.6 214.3 175.8 209.9 169.9 215.8 164.1 220.2 153.8 212.9 149.4 214.3 137.6 208.5 137.6 202.6 146.4 196.7 150.9 195.3 140.6 189.4 145 180.6 153.8 171.8 150.9 173.2 140.6 166.9 128.7 188.9 115.5 218.3 97.9 229 106.8 237.8 111.2 249.6 118.6 260 112.7Z" fill="#80d880" stroke="#000" stroke-width="1.1" stroke-linejoin="round"/>
<path d="M81.8 178.6 115.5 158.8 116 169.9 113 177.3 111.6 183.2 102.8 182.4 91 182.4Z" fill="#80d880" stroke="#000" stroke-width="1.1" stroke-linejoin="round"/>
<path d="M119.9 155.8 188.9 114 192.3 123 180.6 125.9 176.2 131.8 165.9 134.7 160 140.6 154.2 142 146.8 146.4 140.9 150.9 139.5 156.7 146.8 161.1 155.6 164.1 152.7 165.5 143.9 164.1 135.1 162.6 129.2 167 124.8 164.1Z" fill="#80d880" stroke="#000" stroke-width="1.1" stroke-linejoin="round"/>
<path d="M160 156.7 164.4 155.3 165.9 159.7 161.5 161.1Z" fill="#80d880" stroke="#000" stroke-width="1.1" stroke-linejoin="round"/>
<path d="M5.9 218.4 50.9 201.4 49.9 210.3 39.6 215.4 36 221.3 38.9 226.5 34.5 233.1 44 240.4 55.1 244.8 51.4 248.5 44 247 33.8 237.5 28.6 246.3 30.1 258 25.7 263.9 27.9 271.2 17.6 271.2 5.9 273.4Z" fill="#80d880" stroke="#000" stroke-width="1.1" stroke-linejoin="round"/>
<path d="M61.7 219.9 69 218.4 82.2 224.3 88.1 218.4 95.4 218.4 102.8 222.8 111.6 219.9 108.6 227.2 99.8 225.7 91 228.7 82.2 234.5 70.5 240.4 63.1 238.9 61.7 233.1 66.1 230.1 63.1 225.7Z" fill="#80d880" stroke="#000" stroke-width="1.1" stroke-linejoin="round"/>
<path d="M129.2 200.8 135.1 199.3 148.3 200 145.3 203.7 135.1 204.4Z" fill="#80d880" stroke="#000" stroke-width="1.1" stroke-linejoin="round"/>
<path d="M176.2 187.6 185 183.2 189.4 184.6 183.5 189 177.6 189.8Z" fill="#80d880" stroke="#000" stroke-width="1.1" stroke-linejoin="round"/>
<path d="M160 186.1 163 186.8 165.2 196.4 161.5 197.8 159.3 192Z" fill="#80d880" stroke="#000" stroke-width="1.1" stroke-linejoin="round"/>
<path d="M193.8 189 197.5 188.3 198.2 192.7 194.5 193.4Z" fill="#80d880" stroke="#000" stroke-width="1.1" stroke-linejoin="round"/>
<path d="M143.9 231.6 148.3 219.9 155.6 214 164.4 203.7 173.2 194.9 182 193.4 183.5 200.8 193.8 199.3 202.6 194.9 208.5 194.9 205.5 200.8 202.6 206.6 198.2 214 189.4 216.9 182 222.8 186.4 227.2 179.1 234.5 168.8 237.5 158.6 240.4 154.2 246.3 146.8 246.3 145.3 238.9Z" fill="#80d880" stroke="#000" stroke-width="1.1" stroke-linejoin="round"/>
<path d="M111.6 252.2 114.5 249.2 116.7 255.1 113 255.8Z" fill="#80d880" stroke="#000" stroke-width="1.1" stroke-linejoin="round"/>
<path d="M58.7 199.3 63.1 197.8 64.6 200.8 60.2 202.2Z" fill="#80d880" stroke="#000" stroke-width="1.1" stroke-linejoin="round"/>
<path d="M95.4 230.1 102.8 231.6 113 234.5 108.6 236.7 99.8 234.5Z" fill="#80d880" stroke="#000" stroke-width="1.1" stroke-linejoin="round"/>
<path d="M34.5 293.9 44.1 290 48 293.9 41.3 300.6 35.5 297.7Z" fill="#80d880" stroke="#000" stroke-width="1.1" stroke-linejoin="round"/>
<path d="M239.9 429.2 247.6 428.2 253.4 434 255.3 438.8 247.6 436.9 241.8 434Z" fill="#80d880" stroke="#000" stroke-width="1.1" stroke-linejoin="round"/>
<path d="M231.3 378.3 234.5 377.9 235.1 381.2 231.9 381.8Z" fill="#80d880" stroke="#000" stroke-width="1.1" stroke-linejoin="round"/>
<path d="M423.8 131.8 432.6 121.5 438.5 106.8 437.7 123 441.4 131.8 450.2 134.7 459 130.3 467.8 136.9 473 146.4 480.3 153.8 483.2 161.1 477.4 167 480.3 175.8 474.4 185.4 467.8 179.5 462 173.6 456.1 178 450.2 170.7 445.1 161.1 442.1 153.8 438.5 147.2 432.6 144.2 427.5 138.4Z" fill="#80d880" stroke="#000" stroke-width="1.1" stroke-linejoin="round"/>
<path d="M397.4 99.5 406.2 95.1 412 105.3 413.5 123 410.6 137.6 401.8 140.6 398.8 123Z" fill="#80d880" stroke="#000" stroke-width="1.1" stroke-linejoin="round"/>
<path d="M412 146.4 420.9 134.7 423.8 140.6 417.9 150.9 413.5 153.8Z" fill="#80d880" stroke="#000" stroke-width="1.1" stroke-linejoin="round"/>
<path d="M435.5 169.9 441.4 168.5 442.9 177.3 438.5 183.2Z" fill="#80d880" stroke="#000" stroke-width="1.1" stroke-linejoin="round"/>
<path d="M432.6 225.7 438.5 227.2 442.9 237.5 435.5 238.9Z" fill="#80d880" stroke="#000" stroke-width="1.1" stroke-linejoin="round"/>
<path d="M448.7 231.6 454.6 231.6 456.1 246.3 454.6 261 450.2 269.8 444.3 258 442.9 244.8 447.3 240.4Z" fill="#80d880" stroke="#000" stroke-width="1.1" stroke-linejoin="round"/>
<path d="M441.4 261 445.8 266.8 450.2 278.6 453.2 289 447.3 289 442.9 275.6Z" fill="#80d880" stroke="#000" stroke-width="1.1" stroke-linejoin="round"/>
<path d="M413.5 225.7 422.3 222.8 426.7 234.5 425.3 246.3 419.4 258 413.5 258 415 243.3Z" fill="#80d880" stroke="#000" stroke-width="1.1" stroke-linejoin="round"/>
<path d="M419.4 115.6 423.8 112.7 426.7 118.6 420.9 123Z" fill="#80d880" stroke="#000" stroke-width="1.1" stroke-linejoin="round"/>
<path d="M447.3 124.4 464.9 117.1 467.8 120 450.2 128.8Z" fill="#80d880" stroke="#000" stroke-width="1.1" stroke-linejoin="round"/>
<path d="M450.2 199.3 454.6 197.8 456.1 206.6 450.9 208.1Z" fill="#80d880" stroke="#000" stroke-width="1.1" stroke-linejoin="round"/>
<path d="M440.7 263.6 448.9 260.3 455.4 271.7 452.2 283.2 445.6 284.8 442.3 275Z" fill="#80d880" stroke="#000" stroke-width="1.1" stroke-linejoin="round"/>
<path d="M457.1 284.8 465.3 281.6 470.2 291.4 462 301.2 455.4 294.7Z" fill="#80d880" stroke="#000" stroke-width="1.1" stroke-linejoin="round"/>
<path d="M315.1 36.3 316.6 51 324 55.4 329.8 58.4 332.8 49.6 335.7 36.3Z" fill="#b4b4b4" stroke="#000" stroke-width="1.1" stroke-linejoin="round"/>
<path d="M256.4 165.5 263.8 161.1 272.6 153.8 279.9 149.4 287.3 155.3 291.7 161.1 297.5 167 300.5 174.3 294.6 178.7 288.7 181.7 281.4 184.6 272.6 181.7 263.8 178.7 259.4 172.9Z" fill="#c4c4c4" stroke="#000" stroke-width="1.1" stroke-linejoin="round"/>
<path d="M316.6 153.8 322.5 150.9 329.8 152.3 332.8 158.2 326.9 164.1 319.6 164.1Z" fill="#bcbcbc" stroke="#000" stroke-width="1.1" stroke-linejoin="round"/>
<path d="M306.3 175.8 313.7 171.4 316.6 177.3 309.3 181.7Z" fill="#c8c8c8" stroke="#000" stroke-width="1.1" stroke-linejoin="round"/>
<path d="M297.5 181.7 303.4 180.2 303.4 184.6 299 186.1Z" fill="#c8c8c8" stroke="#000" stroke-width="1.1" stroke-linejoin="round"/>
<path d="M230 187.6 238.8 184.6 244.7 190.5 238.8 197.8 232.9 202.2 230 203.7Z" fill="#c0c0c0" stroke="#000" stroke-width="1.1" stroke-linejoin="round"/>
<path d="M250.6 203.7 259.4 202.2 262.3 209.6 256.4 214 252 211Z" fill="#b0b0b0" stroke="#000" stroke-width="1.1" stroke-linejoin="round"/>
<path d="M266.7 215.4 274 212.5 285.8 216.9 287.3 221.3 278.4 221.3 269.6 219.9Z" fill="#b8b8b8" stroke="#000" stroke-width="1.1" stroke-linejoin="round"/>
<path d="M235.9 130.3 241.7 127.4 243.2 133.2 238.8 137.6 235.9 136.2Z" fill="#b0b0b0" stroke="#000" stroke-width="1.1" stroke-linejoin="round"/>
<path d="M266.7 225.7 274 222.8 282.9 227.2 291.7 233.1 300.5 241.9 309.3 246.3 321 252.2 332.8 253.6 341.6 249.2 353.3 240.4 362.1 241.9 368 249.2 362.1 262.4 357.7 271.2 347.4 278.6 335.7 281.5 324 277.1 312.2 278.6 303.4 285.9 291.7 281.5 279.9 275.6 274 266.8 272.6 255.1 274 240.4Z" fill="#e2e2e2" stroke="#000" stroke-width="1.1" stroke-linejoin="round"/>
<path d="M369.5 234.5 382.7 230.1 391.5 234.5 403.2 231.6 409.1 240.4 410.6 252.2 403.2 261 391.5 263.9 382.7 258 376.8 263.9 368 261 370.9 249.2Z" fill="#c4c4c4" stroke="#000" stroke-width="1.1" stroke-linejoin="round"/>
<path d="M359.2 269.8 370.9 263.9 376.8 269.8 368 278.6 362.1 281.5Z" fill="#d4d4d4" stroke="#000" stroke-width="1.1" stroke-linejoin="round"/>
<path d="M246.6 274.7 250.5 272.7 253.4 280.4 251.4 290 246.6 286.2Z" fill="#c4c4c4" stroke="#000" stroke-width="1.1" stroke-linejoin="round"/>
<path d="M255.3 282.3 260.1 280.4 262 291.9 258.2 295.8 255.3 290Z" fill="#c4c4c4" stroke="#000" stroke-width="1.1" stroke-linejoin="round"/>
<path d="M230 120 238.8 117.1 247.6 123 249.1 131.8 259.4 125.9 268.2 120 279.9 120 288.7 123 297.5 125.9 300.5 134.7 297.5 143.5 288.7 146.4 281.4 143.5 274 146.4 266.7 143.5 259.4 146.4 257.9 155.3 252 161.1 244.7 168.5 238.8 175.8 230 178.7Z" fill="#d2d7ff"/>
<path d="M338.6 111.2 347.4 105.3 357.7 102.4 363.6 111.2 370.9 120 376.8 125.9 382.7 134.7 376.8 140.6 368 137.6 362.1 131.8 356.3 134.7 353.3 125.9 347.4 123 341.6 117.1Z" fill="#d2d7ff"/>
<path d="M309.3 199.3 318.1 193.4 326.9 184.6 335.7 175.8 347.4 174.3 356.3 172.9 362.1 181.7 368 190.5 376.8 193.4 388.6 197.8 397.4 205.2 403.2 214 404.7 222.8 394.4 225.7 382.7 222.8 370.9 225.7 362.1 234.5 356.3 240.4 347.4 243.3 338.6 240.4 329.8 243.3 321 237.5 318.1 228.7 324 219.9 332.8 214 324 211 315.1 208.1Z" fill="#d2d7ff"/>
<path d="M341.6 161.1 354.8 158.2 369.5 161.1 376.8 167 370.9 172.9 359.2 169.9 347.4 167Z" fill="#d2d7ff"/>
<path d="M266.7 67.2 294.6 48.1 306.3 43.7 312.2 52.5 303.4 61.3 294.6 67.2 288.7 74.5 274 71.6Z" fill="#d2d7ff"/>
<path d="M318.1 58.4 324 70.1 331.3 61.3 338.6 52.5 341.6 43.7 347.4 46.6 344.5 55.4 332.8 64.2Z" fill="#d2d7ff"/>
<path d="M370.9 42.9 388.6 42.9 385.6 49.6 376.8 51Z" fill="#d2d7ff"/>
<path d="M173.2 140.6 190.9 123 220.2 105.3 229 111.2 240.8 117.1 252.5 123 260 120 260 175.8 249.6 181.7 242.2 190.5 234.9 184.6 229 178.7 223.2 169.9 226.1 158.2 220.2 146.4 217.3 140.6 208.5 146.4 199.7 149.4 190.9 146.4 182 149.4Z" fill="#d2d7ff"/>
<path d="M252 123 268.2 120 279.9 120 288.7 123 297.5 125.9 300.5 134.7 297.5 143.5 288.7 146.4 281.4 143.5 274 146.4 266.7 143.5 259.4 146.4 257.9 155.3 252 161.1 250.6 140.6Z" fill="#d2d7ff"/>
<path d="M13.2 222.8 48.4 206.9 44 212.5 33.8 218.4 29.4 225.7 27.9 234.5 22 233.1 13.2 230.9Z" fill="#d2d7ff"/>
<path d="M13.2 259.5 19.1 261 22 266.8 16.1 269.8 13.2 269.8Z" fill="#d2d7ff"/>
<path d="M174.7 205.2 180.6 202.2 182 206.6 176.2 209.6Z" fill="#d2d7ff"/>
<path d="M180.6 214 186.4 209.6 187.9 214 182.8 218.4Z" fill="#d2d7ff"/>
<path d="M143.9 158.2 149.7 156.7 152.7 161.1 146.8 162.6Z" fill="#d2d7ff"/>
<path d="M266.7 67.2C270.1 63.3 288 52 294.6 48.1C301.2 44.2 303.4 42.9 306.3 43.7C309.3 44.4 312.7 49.6 312.2 52.5C311.7 55.4 306.3 58.9 303.4 61.3C300.5 63.7 297 65 294.6 67.2C292.1 69.4 292.1 73.8 288.7 74.5C285.3 75.2 277.7 72.8 274 71.6C270.4 70.4 263.3 71.1 266.7 67.2Z" fill="#a4cbff" opacity="0.85"/>
<path d="M274 65.7C275 63 286.8 56.4 291.7 54C296.6 51.5 302.2 49.6 303.4 51C304.6 52.5 301.9 59.6 299 62.8C296.1 65.9 289.9 69.6 285.8 70.1C281.6 70.6 273.1 68.4 274 65.7Z" fill="#78aeff" opacity="0.85"/>
<path d="M318.1 58.4C316.6 59.3 321.8 69.6 324 70.1C326.2 70.6 328.9 64.2 331.3 61.3C333.7 58.4 336.9 55.4 338.6 52.5C340.4 49.6 340.1 44.7 341.6 43.7C343 42.7 347 44.7 347.4 46.6C347.9 48.6 347 52.5 344.5 55.4C342.1 58.4 337.2 63.7 332.8 64.2C328.4 64.7 319.6 57.4 318.1 58.4Z" fill="#a4cbff" opacity="0.85"/>
<path d="M232.9 123C235.9 123 244.2 123 247.6 125.9C251 128.8 253.5 135.2 253.5 140.6C253.5 146 250.6 153.3 247.6 158.2C244.7 163.1 238.8 168 235.9 169.9C232.9 171.9 231 177.3 230 169.9C229 162.6 229.5 133.7 230 125.9C230.5 118.1 230 123 232.9 123Z" fill="#a4cbff" opacity="0.85"/>
<path d="M259.4 123C262.5 121 272.6 122 278.4 123C284.3 123.9 291.7 125.9 294.6 128.8C297.5 131.8 298 138.4 296.1 140.6C294.1 142.8 287.5 142 282.9 142C278.2 142 272.1 141.8 268.2 140.6C264.3 139.4 260.8 137.6 259.4 134.7C257.9 131.8 256.2 124.9 259.4 123Z" fill="#a4cbff" opacity="0.85"/>
<path d="M344.5 105.3C345.2 102.2 353.3 102.6 356.3 103.9C359.2 105.1 359.7 109.5 362.1 112.7C364.6 115.9 370.9 120.3 370.9 123C370.9 125.6 365.3 128.8 362.1 128.8C358.9 128.8 354.8 126.9 351.9 123C348.9 119 343.8 108.5 344.5 105.3Z" fill="#a4cbff" opacity="0.85"/>
<path d="M324 193.4C324.9 189.8 336.2 182.7 341.6 180.2C347 177.8 352.8 177.5 356.3 178.7C359.7 180 362.6 184.4 362.1 187.6C361.6 190.7 357.7 195.4 353.3 197.8C348.9 200.3 340.6 203 335.7 202.2C330.8 201.5 323 197.1 324 193.4Z" fill="#a4cbff" opacity="0.85"/>
<path d="M362.1 205.2C363.6 202.2 376.8 201.3 382.7 202.2C388.6 203.2 395.9 207.9 397.4 211C398.8 214.2 395.4 219.9 391.5 221.3C387.6 222.8 378.8 222.5 373.9 219.9C369 217.2 360.7 208.1 362.1 205.2Z" fill="#a4cbff" opacity="0.85"/>
<path d="M373.9 237.5 382.7 234.5 388.6 240.4 379.7 244.8Z" fill="#80d880" stroke="#000" stroke-width="1.1" stroke-linejoin="round"/>
<path d="M391.5 246.3 400.3 240.4 406.2 247.7 398.8 255.1Z" fill="#80d880" stroke="#000" stroke-width="1.1" stroke-linejoin="round"/>
<path d="M376.8 252.2 385.6 249.2 388.6 258 379.7 261Z" fill="#80d880" stroke="#000" stroke-width="1.1" stroke-linejoin="round"/>
<path d="M240.9 239 265.5 239 270.4 255.4 277 270.1 288.4 279.9 295 286.5 304.8 281.6 317.9 281.6 327.7 286.5 340.8 283.2 352.3 275 357.2 266.8 363.7 257 368.7 248.8 380.1 255.4 396.5 263.6 416.1 265.2 416.1 281.6 422.7 289.8 417.8 299.6 427.6 307.8 435.8 314.3 445.6 324.1 363.7 378.2 288.4 424 291.7 414.2 275.3 406 265.5 399.5 255.7 391.3 252.4 379.8 244.2 370 244.2 353.6 242.6 337.2 244.2 324.1 249.1 314.3 254 307.8 245.8 301.2 242.6 288.1 239.3 271.7 237.7 255.4Z" fill="#a4cbff"/>
<path d="M428.2 131.8 434.1 124.4 438.5 114.1 439.2 125.9 442.9 134.7 451.7 137.6 459 134.7 466.4 140.6 470.8 149.4 478.1 156.7 479.6 161.1 473.7 165.5 476.6 174.3 473 180.2 467.8 174.3 462 168.5 456.1 172.9 451.7 165.5 448 158.2 445.1 150.9 440.7 145 434.8 141.3Z" fill="#a4cbff"/>
<path d="M404 130.3 407.6 112.7 410.3 121.5 408.8 131.8 405.4 136.9Z" fill="#a4cbff"/>
<path d="M414.2 146.4 420.9 137.6 422 141.3 417.2 149.4Z" fill="#a4cbff"/>
<path d="M298.2 311C301 309.7 316.3 316.5 324.4 316C332.6 315.4 339.7 310.8 347.4 307.8C355 304.8 363.5 300.4 370.3 297.9C377.1 295.5 382.6 295.2 388.3 293C394 290.9 401.1 284.8 404.7 284.8C408.2 284.8 411.5 289.8 409.6 293C407.7 296.3 399.2 301.5 393.2 304.5C387.2 307.5 380.1 308.3 373.6 311C367 313.8 361 318.1 353.9 320.9C346.8 323.6 338.6 326.9 331 327.4C323.4 328 313.5 326.9 308.1 324.1C302.6 321.4 295.5 312.4 298.2 311Z" fill="#d2d7ff" opacity="0.8" filter="url(#b3)"/>
<path d="M249.1 340.5C252.4 339.2 261.7 341.6 268.8 343.8C275.9 346 284.1 350.3 291.7 353.6C299.3 356.9 307.5 360.2 314.6 363.4C321.7 366.7 332.6 370 334.3 373.3C335.9 376.5 329.4 382.8 324.4 383.1C319.5 383.4 311.9 377.9 304.8 374.9C297.7 371.9 289 368.1 281.9 365.1C274.8 362.1 267.7 359.1 262.2 356.9C256.8 354.7 251.3 354.7 249.1 352C246.9 349.3 245.8 341.9 249.1 340.5Z" fill="#d2d7ff" opacity="0.8" filter="url(#b3)"/>
<path d="M344.1 330.7C346.8 327.4 357.2 324.1 363.7 324.1C370.3 324.1 376.8 328.5 383.4 330.7C389.9 332.9 400.9 334 403 337.2C405.2 340.5 400.3 347.1 396.5 350.3C392.7 353.6 385.6 356.4 380.1 356.9C374.7 357.4 369.2 355.8 363.7 353.6C358.3 351.4 350.6 347.6 347.4 343.8C344.1 340 341.4 334 344.1 330.7Z" fill="#d2d7ff" opacity="0.8" filter="url(#b3)"/>
<path d="M257.3 386.4C258.9 384.2 271.8 383.1 278.6 383.1C285.4 383.1 292.2 384.2 298.2 386.4C304.3 388.6 313.5 392.9 314.6 396.2C315.7 399.5 309.7 404.9 304.8 406C299.9 407.1 291.2 404.4 285.1 402.7C279.1 401.1 273.4 398.9 268.8 396.2C264.1 393.5 255.7 388.6 257.3 386.4Z" fill="#d2d7ff" opacity="0.8" filter="url(#b3)"/>
<path d="M263.9 284.8C265 284 269 285.4 272 288.1C275.1 290.9 278.6 297.7 281.9 301.2C285.1 304.8 288.4 306.1 291.7 309.4C295 312.7 300.7 318.4 301.5 320.9C302.3 323.3 299.3 325.5 296.6 324.1C293.9 322.8 288.7 316.2 285.1 312.7C281.6 309.1 278.6 306.1 275.3 302.9C272 299.6 267.4 296 265.5 293C263.6 290 262.8 285.7 263.9 284.8Z" fill="#78aeff" filter="url(#b2)"/>
<path d="M277 301.2C277 299.9 281.6 301.5 283.5 302.9C285.4 304.2 288.4 308 288.4 309.4C288.4 310.8 285.4 312.4 283.5 311C281.6 309.7 277 302.6 277 301.2Z" fill="#4a72f6" filter="url(#b2)"/>
<path d="M313 330.7C314.1 328.8 318.2 326.9 321.2 327.4C324.2 328 328.8 331.2 331 334C333.2 336.7 335.4 342.2 334.3 343.8C333.2 345.4 327.7 344.6 324.4 343.8C321.2 343 316.5 341.1 314.6 338.9C312.7 336.7 311.9 332.6 313 330.7Z" fill="#78aeff" filter="url(#b2)"/>
<path d="M316.3 334C316.5 332.6 320.9 331.8 322.8 332.3C324.7 332.9 328 335.9 327.7 337.2C327.5 338.6 323.1 341.1 321.2 340.5C319.3 340 316 335.3 316.3 334Z" fill="#4a72f6" filter="url(#b2)"/>
<path d="M334.3 337.2C335.4 335.9 341.9 337.2 344.1 338.9C346.3 340.5 348.5 345.7 347.4 347.1C346.3 348.4 339.7 348.7 337.5 347.1C335.4 345.4 333.2 338.6 334.3 337.2Z" fill="#78aeff" filter="url(#b2)"/>
<path d="M262.2 350.3C264.4 349.3 268.8 351.4 273.7 352C278.6 352.5 288.2 351.7 291.7 353.6C295.2 355.5 296.6 361 295 363.4C293.3 365.9 286.2 368.1 281.9 368.4C277.5 368.6 272.3 366.7 268.8 365.1C265.2 363.4 261.7 361 260.6 358.5C259.5 356.1 260 351.4 262.2 350.3Z" fill="#78aeff" filter="url(#b2)"/>
<path d="M265.5 353.6C266.3 352 270.7 352 272 353.6C273.4 355.3 274.5 361.8 273.7 363.4C272.9 365.1 268.5 365.1 267.1 363.4C265.8 361.8 264.7 355.3 265.5 353.6Z" fill="#4a72f6" filter="url(#b2)"/>
<path d="M278.6 355.3C280 353.4 287.9 352.5 290.1 353.6C292.2 354.7 293.1 359.9 291.7 361.8C290.3 363.7 284.1 366.2 281.9 365.1C279.7 364 277.2 357.2 278.6 355.3Z" fill="#4a72f6" filter="url(#b2)"/>
<path d="M255.7 330.7C257 330.2 263.6 331.2 265.5 332.3C267.4 333.4 268.5 336.7 267.1 337.2C265.8 337.8 259.2 336.7 257.3 335.6C255.4 334.5 254.3 331.2 255.7 330.7Z" fill="#4a72f6" filter="url(#b2)"/>
<path d="M245.8 243.9C248 241.2 252.4 240.6 255.7 242.3C258.9 243.9 263.3 249.4 265.5 253.7C267.7 258.1 267.7 263.8 268.8 268.5C269.9 273.1 272.6 278.3 272 281.6C271.5 284.8 268 288.1 265.5 288.1C263 288.1 260 284.3 257.3 281.6C254.6 278.8 251.6 275.6 249.1 271.7C246.7 267.9 243.1 263.3 242.6 258.6C242 254 243.7 246.6 245.8 243.9Z" fill="#78aeff" filter="url(#b2)"/>
<path d="M257.3 258.6C258.4 255.6 263.3 254.8 265.5 257C267.7 259.2 269.3 267.4 270.4 271.7C271.5 276.1 272.9 280.8 272 283.2C271.2 285.7 267.7 287.9 265.5 286.5C263.3 285.1 260.3 279.7 258.9 275C257.6 270.4 256.2 261.7 257.3 258.6Z" fill="#4a72f6" filter="url(#b2)"/>
<path d="M259.8 266.8C260.6 264.4 264.7 261.9 266.3 263.6C268 265.2 269.5 273.3 269.6 276.7C269.7 280.1 268.5 283.8 267.1 284C265.8 284.3 262.6 281.2 261.4 278.3C260.2 275.4 258.9 269.3 259.8 266.8Z" fill="#1a28e0" filter="url(#b2)"/>
<path d="M230 140.6C232 135.2 238.1 136.7 241.7 137.6C245.4 138.6 250.1 143 252 146.4C254 149.9 254.7 155 253.5 158.2C252.3 161.4 248.6 163.6 244.7 165.5C240.8 167.5 232.4 174.1 230 169.9C227.6 165.8 228 146 230 140.6Z" fill="#a4cbff" filter="url(#b2)"/>
<path d="M230 146.4C231.5 143.8 235.9 143.8 238.8 145C241.7 146.2 247.6 151.1 247.6 153.8C247.6 156.5 241.7 159.9 238.8 161.1C235.9 162.4 231.5 163.6 230 161.1C228.5 158.7 228.5 149.1 230 146.4Z" fill="#78aeff" filter="url(#b2)"/>
<path d="M344.5 108.3C346.2 106.6 353.3 104.6 356.3 105.3C359.2 106.1 362.6 110.5 362.1 112.7C361.6 114.9 356 118.1 353.3 118.6C350.6 119 347.4 117.3 346 115.6C344.5 113.9 342.8 110 344.5 108.3Z" fill="#a4cbff" filter="url(#b2)"/>
<path d="M293.1 114.1C293.4 112.9 295.3 111.9 296.1 112.7C296.8 113.4 297.8 117.3 297.5 118.6C297.3 119.8 295.3 120.8 294.6 120C293.9 119.3 292.9 115.4 293.1 114.1Z" fill="#4a72f6" filter="url(#b2)"/>
<path d="M235.9 219.9C237.1 216.7 241.5 215.4 244.7 215.4C247.9 215.4 251.8 217.4 255 219.9C258.1 222.3 261.8 226.7 263.8 230.1C265.7 233.6 266.5 239.7 266.7 240.4C266.9 241.1 266.5 235 265.2 234.5C264 234 261.6 235.8 259.4 237.5C257.2 239.2 255 243.6 252 244.8C249.1 246 244.2 246.5 241.7 244.8C239.3 243.1 238.3 238.7 237.3 234.5C236.4 230.4 234.6 223 235.9 219.9Z" fill="#a4cbff" filter="url(#b2)"/>
<path d="M238.8 231.6C240.3 229.2 247.6 227.7 250.6 228.7C253.5 229.6 256.2 234.8 256.4 237.5C256.7 240.2 254.5 243.8 252 244.8C249.6 245.8 243.9 245.5 241.7 243.3C239.5 241.1 237.3 234 238.8 231.6Z" fill="#4a72f6" filter="url(#b2)"/>
<path d="M447.3 140.6C448.7 137.4 453.6 135.4 456.1 136.2C458.5 136.9 461.5 141.8 462 145C462.4 148.2 460.5 152.6 459 155.3C457.6 157.9 455.1 161.1 453.2 161.1C451.2 161.1 448.3 158.7 447.3 155.3C446.3 151.8 445.8 143.8 447.3 140.6Z" fill="#78aeff" filter="url(#b2)"/>
<path d="M451.7 142C452.3 140.8 455.7 139.8 456.8 140.6C457.9 141.3 458.9 145.2 458.3 146.4C457.7 147.7 454.3 148.6 453.2 147.9C452 147.2 451.1 143.3 451.7 142Z" fill="#1a28e0" filter="url(#b2)"/>
<path d="M470.8 158.2C471.7 157.7 475.9 158.7 476.6 159.7C477.4 160.6 476.2 163.6 475.2 164.1C474.2 164.6 471.5 163.6 470.8 162.6C470 161.6 469.8 158.7 470.8 158.2Z" fill="#4a72f6" filter="url(#b2)"/>
<path d="M291.7 51C292.1 49.8 297.3 47.8 299 48.1C300.7 48.3 302.4 51.3 301.9 52.5C301.4 53.7 297.8 55.7 296.1 55.4C294.4 55.2 291.2 52.2 291.7 51Z" fill="#1a28e0" filter="url(#b2)"/>
<path d="M278.4 68.6C280.2 68.1 289.2 69.1 291.7 70.1C294.1 71.1 294.8 74 293.1 74.5C291.4 75 283.8 74 281.4 73C278.9 72.1 276.7 69.1 278.4 68.6Z" fill="#4a72f6" filter="url(#b2)"/>
<path d="M195.3 111.2C197.5 108.8 204.8 105.8 208.5 105.3C212.1 104.9 216.8 105.8 217.3 108.3C217.8 110.7 213.9 117.3 211.4 120C209 122.7 205.3 124.4 202.6 124.4C199.9 124.4 196.5 122.2 195.3 120C194 117.8 193.1 113.7 195.3 111.2Z" fill="#78aeff" filter="url(#b2)"/>
<path d="M220.2 150.9C220.2 148.4 225.6 145.7 229 146.4C232.4 147.2 237.3 152.1 240.8 155.3C244.2 158.4 248.4 162.1 249.6 165.5C250.8 169 250.1 175.1 248.1 175.8C246.2 176.5 241 172.4 237.8 169.9C234.7 167.5 232 164.3 229 161.1C226.1 157.9 220.2 153.3 220.2 150.9Z" fill="#a4cbff" filter="url(#b2)"/>
<path d="M237.8 231.6C239.5 229.4 246.6 227.2 249.6 228.7C252.5 230.1 255.7 237.5 255.4 240.4C255.2 243.3 250.8 246 248.1 246.3C245.4 246.5 241 244.3 239.3 241.9C237.6 239.4 236.1 233.8 237.8 231.6Z" fill="#4a72f6" filter="url(#b2)"/>
<path d="M26.4 228.7C27 227.2 30 226.2 30.8 227.2C31.7 228.2 32.2 233.1 31.6 234.5C31 236 28 237 27.2 236C26.3 235 25.8 230.1 26.4 228.7Z" fill="#4a72f6" filter="url(#b2)"/>
<path d="M285.1 293 298.2 286.5 314.6 288.1 331 289.8 335.9 296.3 331 304.5 321.2 307.8 304.8 304.5 291.7 307.8 285.1 301.2Z" fill="#80d880"/>
<path d="M232.7 271.7 245.8 271.7 257.3 283.2 265.5 293 262.2 304.5 252.4 311 240.9 320.9 236 311 231.1 304.5 237.7 293 232.7 284.8Z" fill="#80d880"/>
<path d="M277 319.2 285.1 320.9 288.4 330.7 280.2 332.3Z" fill="#80d880"/>
<path d="M380.1 319.2 391.6 317.6 393.2 325.8 383.4 327.4Z" fill="#80d880"/>
<path d="M340.8 360.2 350.6 356.9 347.4 370 340.8 368.4Z" fill="#80d880"/>
<path d="M342.5 374.9 352.3 373.3 353.9 381.5 345.7 381.5Z" fill="#80d880"/>
<path d="M244.2 247.2 250.8 248.8 249.1 255.4 244.2 253.7Z" fill="#80d880"/>
<path d="M412.9 337.2 422.7 332.3 432.5 334 426 343.8 416.1 345.4Z" fill="#80d880"/>
</g>
<path d="M263.5 264.4 265.8 269.3 266.8 273.1 260.9 273.4 259.6 269.5 262.2 268.8Z" fill="#ffc400" stroke="#000" stroke-width="1"/>
<path d="M261.9 269.5 264.2 268.5 264.8 271.7 262.2 272.1Z" fill="#ff8c00"/>
<ellipse cx="463.4" cy="52.5" rx="1.3" ry="1.8" fill="#111"/>
<ellipse cx="484" cy="73" rx="1.3" ry="1.8" fill="#111"/>
<ellipse cx="441.4" cy="86.3" rx="1.3" ry="1.8" fill="#111"/>
<ellipse cx="394.4" cy="81.9" rx="1.3" ry="1.8" fill="#111"/>
<ellipse cx="395.9" cy="89.2" rx="1.3" ry="1.8" fill="#111"/>
<ellipse cx="475.2" cy="68.6" rx="1.3" ry="1.8" fill="#111"/>
<ellipse cx="479.6" cy="90.7" rx="1.3" ry="1.8" fill="#111"/>
<ellipse cx="442.9" cy="100.9" rx="1.3" ry="1.8" fill="#111"/>
<ellipse cx="479.6" cy="103.9" rx="1.3" ry="1.8" fill="#111"/>
<ellipse cx="413.5" cy="174.3" rx="1.3" ry="1.8" fill="#111"/>
<ellipse cx="412" cy="199.3" rx="1.3" ry="1.8" fill="#111"/>
<ellipse cx="420.9" cy="269.8" rx="1.3" ry="1.8" fill="#111"/>
<ellipse cx="462" cy="265.4" rx="1.3" ry="1.8" fill="#111"/>
<ellipse cx="475.2" cy="253.6" rx="1.3" ry="1.8" fill="#111"/>
<ellipse cx="475.2" cy="228.7" rx="1.3" ry="1.8" fill="#111"/>
<ellipse cx="485.4" cy="266.8" rx="1.3" ry="1.8" fill="#111"/>
<ellipse cx="451.7" cy="203.7" rx="1.3" ry="1.8" fill="#111"/>
<ellipse cx="484" cy="194.9" rx="1.3" ry="1.8" fill="#111"/>
<ellipse cx="472.2" cy="193.4" rx="1.3" ry="1.8" fill="#111"/>
<ellipse cx="438.5" cy="186.1" rx="1.3" ry="1.8" fill="#111"/>
<ellipse cx="426.7" cy="155.3" rx="1.3" ry="1.8" fill="#111"/>
<ellipse cx="478.1" cy="167" rx="1.3" ry="1.8" fill="#111"/>
<ellipse cx="391.5" cy="111.2" rx="1.3" ry="1.8" fill="#111"/>
<ellipse cx="416.4" cy="108.3" rx="1.3" ry="1.8" fill="#111"/>
<ellipse cx="378.3" cy="117.1" rx="1.3" ry="1.8" fill="#111"/>
<ellipse cx="335.7" cy="124.4" rx="1.3" ry="1.8" fill="#111"/>
<ellipse cx="338.6" cy="130.3" rx="1.3" ry="1.8" fill="#111"/>
</g></g>
<use href="#fu" stroke-width="1.15"/>
<use href="#lb" y="1.3"/>

<use href="#plus"/>
<text x="38.3" y="65.9" class="tt">VIRS T<tspan dy="6.3" dx="1" font-size="14.6px">B11</tspan><tspan dy="-6.3" dx="2"> (K)</tspan></text>
<text x="439.4" y="522.6" class="pl">(g)</text>
<rect x="495.1" y="531.82" width="8.8" height="8.77" fill="#f8f8f7"/>
<rect x="495.1" y="523.35" width="8.8" height="8.77" fill="#f0f0f0"/>
<rect x="495.1" y="514.88" width="8.8" height="8.77" fill="#e9e8e8"/>
<rect x="495.1" y="506.42" width="8.8" height="8.77" fill="#e2e1e0"/>
<rect x="495.1" y="497.95" width="8.8" height="8.77" fill="#dadad9"/>
<rect x="495.1" y="489.48" width="8.8" height="8.77" fill="#d3d2d1"/>
<rect x="495.1" y="481.02" width="8.8" height="8.77" fill="#cccaca"/>
<rect x="495.1" y="472.55" width="8.8" height="8.77" fill="#c4c3c2"/>
<rect x="495.1" y="464.08" width="8.8" height="8.77" fill="#bdbcba"/>
<rect x="495.1" y="455.62" width="8.8" height="8.77" fill="#b5b4b3"/>
<rect x="495.1" y="447.15" width="8.8" height="8.77" fill="#aeacab"/>
<rect x="495.1" y="438.68" width="8.8" height="8.77" fill="#a7a5a3"/>
<rect x="495.1" y="430.22" width="8.8" height="8.77" fill="#9f9e9c"/>
<rect x="495.1" y="421.75" width="8.8" height="8.77" fill="#989694"/>
<rect x="495.1" y="413.28" width="8.8" height="8.77" fill="#86e686"/>
<rect x="495.1" y="404.82" width="8.8" height="8.77" fill="#7fdc7f"/>
<rect x="495.1" y="396.35" width="8.8" height="8.77" fill="#78d178"/>
<rect x="495.1" y="387.88" width="8.8" height="8.77" fill="#71c671"/>
<rect x="495.1" y="379.42" width="8.8" height="8.77" fill="#6abc6a"/>
<rect x="495.1" y="370.95" width="8.8" height="8.77" fill="#d2d7ff"/>
<rect x="495.1" y="362.48" width="8.8" height="8.77" fill="#b4cdff"/>
<rect x="495.1" y="354.02" width="8.8" height="8.77" fill="#96c3ff"/>
<rect x="495.1" y="345.55" width="8.8" height="8.77" fill="#82beff"/>
<rect x="495.1" y="337.08" width="8.8" height="8.77" fill="#6eb4ff"/>
<rect x="495.1" y="328.62" width="8.8" height="8.77" fill="#55aaff"/>
<rect x="495.1" y="320.15" width="8.8" height="8.77" fill="#4a8cff"/>
<rect x="495.1" y="311.68" width="8.8" height="8.77" fill="#4670ff"/>
<rect x="495.1" y="303.22" width="8.8" height="8.77" fill="#3c50ff"/>
<rect x="495.1" y="294.75" width="8.8" height="8.77" fill="#3030ff"/>
<rect x="495.1" y="286.28" width="8.8" height="8.77" fill="#0000ff"/>
<rect x="495.1" y="277.82" width="8.8" height="8.77" fill="#0000f0"/>
<rect x="495.1" y="269.35" width="8.8" height="8.77" fill="#0000e1"/>
<rect x="495.1" y="260.88" width="8.8" height="8.77" fill="#0000d4"/>
<rect x="495.1" y="252.42" width="8.8" height="8.77" fill="#0000c8"/>
<rect x="495.1" y="243.95" width="8.8" height="8.77" fill="#ffff00"/>
<rect x="495.1" y="235.48" width="8.8" height="8.77" fill="#fff200"/>
<rect x="495.1" y="227.02" width="8.8" height="8.77" fill="#ffe600"/>
<rect x="495.1" y="218.55" width="8.8" height="8.77" fill="#ffda00"/>
<rect x="495.1" y="210.08" width="8.8" height="8.77" fill="#ffcd00"/>
<rect x="495.1" y="201.62" width="8.8" height="8.77" fill="#ff9600"/>
<rect x="495.1" y="193.15" width="8.8" height="8.77" fill="#ff8c00"/>
<rect x="495.1" y="184.68" width="8.8" height="8.77" fill="#ff8200"/>
<rect x="495.1" y="176.22" width="8.8" height="8.77" fill="#ff7800"/>
<rect x="495.1" y="167.75" width="8.8" height="8.77" fill="#ff6e00"/>
<rect x="495.1" y="159.28" width="8.8" height="8.77" fill="#ff3c00"/>
<rect x="495.1" y="150.82" width="8.8" height="8.77" fill="#ff3200"/>
<rect x="495.1" y="142.35" width="8.8" height="8.77" fill="#ff2800"/>
<rect x="495.1" y="133.88" width="8.8" height="8.77" fill="#ff1e00"/>
<rect x="495.1" y="125.42" width="8.8" height="8.77" fill="#ff1400"/>
<rect x="495.1" y="116.95" width="8.8" height="8.77" fill="#c80000"/>
<rect x="495.1" y="108.48" width="8.8" height="8.77" fill="#be0300"/>
<rect x="495.1" y="100.02" width="8.8" height="8.77" fill="#b40600"/>
<rect x="495.1" y="91.55" width="8.8" height="8.77" fill="#aa0900"/>
<rect x="495.1" y="83.08" width="8.8" height="8.77" fill="#a00c00"/>
<rect x="495.1" y="74.62" width="8.8" height="8.77" fill="#640e06"/>
<rect x="495.1" y="66.15" width="8.8" height="8.77" fill="#62110a"/>
<rect x="495.1" y="57.68" width="8.8" height="8.77" fill="#5f140f"/>
<rect x="495.1" y="49.22" width="8.8" height="8.77" fill="#5c1714"/>
<rect x="495.1" y="40.75" width="8.8" height="8.77" fill="#5a1a18"/>
<line x1="503.9" y1="548.90" x2="506.1" y2="548.90" class="tk"/>
<text transform="translate(524.6 557.1) scale(1.02 1)" class="cb">304</text>
<line x1="503.9" y1="498.10" x2="506.1" y2="498.10" class="tk"/>
<text transform="translate(524.6 506.3) scale(1.02 1)" class="cb">292</text>
<line x1="503.9" y1="447.30" x2="506.1" y2="447.30" class="tk"/>
<text transform="translate(524.6 455.5) scale(1.02 1)" class="cb">280</text>
<line x1="503.9" y1="396.50" x2="506.1" y2="396.50" class="tk"/>
<text transform="translate(524.6 404.7) scale(1.02 1)" class="cb">268</text>
<line x1="503.9" y1="345.70" x2="506.1" y2="345.70" class="tk"/>
<text transform="translate(524.6 353.9) scale(1.02 1)" class="cb">256</text>
<line x1="503.9" y1="294.90" x2="506.1" y2="294.90" class="tk"/>
<text transform="translate(524.6 303.1) scale(1.02 1)" class="cb">244</text>
<line x1="503.9" y1="244.10" x2="506.1" y2="244.10" class="tk"/>
<text transform="translate(524.6 252.3) scale(1.02 1)" class="cb">232</text>
<line x1="503.9" y1="193.30" x2="506.1" y2="193.30" class="tk"/>
<text transform="translate(524.6 201.5) scale(1.02 1)" class="cb">220</text>
<line x1="503.9" y1="142.50" x2="506.1" y2="142.50" class="tk"/>
<text transform="translate(524.6 150.7) scale(1.02 1)" class="cb">208</text>
<line x1="503.9" y1="91.70" x2="506.1" y2="91.70" class="tk"/>
<text transform="translate(524.6 99.9) scale(1.02 1)" class="cb">196</text>
</g>
<g transform="translate(590.5 1181)">
<g clip-path="url(#pc)"><g transform="translate(0 0)">
<path d="M312.7 217.2 316.2 216 317.4 220.7 320.9 221.9 319.7 225.4 315 224.2 312.7 225.4 312.1 221.9Z" fill="#0000ff"/>
<path d="M324.6 209 330.5 206.7 332.9 210.2 329.3 212.5 325.8 212.5Z" fill="#0000ff"/>
<path d="M335.7 214.9 339.8 212.6 343.3 215.5 342.1 219.1 337.4 219.6Z" fill="#0000ff"/>
<path d="M348.1 226.8 354.5 225 353.9 231.5 350.4 230.9Z" fill="#0000ff"/>
<path d="M391.7 209.2 398.1 208 401 210.3 398.1 213.9 393.4 213.3Z" fill="#0000ff"/>
<path d="M394 217.3 398.7 216.1 398.7 221.4 395.2 222Z" fill="#0000ff"/>
<path d="M383.7 221.4 388.4 220.6 388.4 223.8 384.3 223.8Z" fill="#0000ff"/>
<path d="M346.1 192.4 349 193 348.6 196.7 346.6 196.3Z" fill="#0000ff"/>
<path d="M339.9 200.2 343.1 199.6 342.5 202.8 340.1 203.2Z" fill="#0000ff"/>
<path d="M385.1 179.8 388.7 179.2 389.2 183.3 386.3 184.3Z" fill="#0000ff"/>
<path d="M364.4 172.4 367.3 171.8 366.7 175.9 365 175.7Z" fill="#0000ff"/>
<line x1="323.7" y1="231.5" x2="336.9" y2="223.4" stroke="#0000ff" stroke-width="1.5"/>
<line x1="372.8" y1="227.1" x2="379.4" y2="223.4" stroke="#0000ff" stroke-width="1.5"/>
<line x1="344.2" y1="238.1" x2="351.5" y2="235.1" stroke="#0000ff" stroke-width="1.5"/>
<line x1="323.7" y1="239.8" x2="328.8" y2="237.8" stroke="#0000ff" stroke-width="1.5"/>
<line x1="339.8" y1="243.2" x2="344.2" y2="241.8" stroke="#0000ff" stroke-width="1.5"/>
<line x1="331" y1="246.9" x2="335.4" y2="248.4" stroke="#0000ff" stroke-width="1.5"/>
<line x1="322.2" y1="234.4" x2="325.1" y2="232.9" stroke="#0000ff" stroke-width="1.5"/>
<line x1="340.5" y1="224.9" x2="344.9" y2="222.7" stroke="#0000ff" stroke-width="1.5"/>
<line x1="353" y1="219" x2="356.7" y2="217.2" stroke="#0000ff" stroke-width="1.5"/>
<line x1="306.8" y1="201.4" x2="309" y2="204.3" stroke="#0000ff" stroke-width="1.5"/>
<line x1="319.2" y1="202.9" x2="322.2" y2="205.8" stroke="#0000ff" stroke-width="1.5"/>
<rect x="326.6" y="250.5" width="1.5" height="1.5" fill="#0000ff"/>
<rect x="303.8" y="223.4" width="1.5" height="1.5" fill="#0000ff"/>
<rect x="383.8" y="195.9" width="1.5" height="1.5" fill="#0000ff"/>
<rect x="391.2" y="197.7" width="1.5" height="1.5" fill="#0000ff"/>
<rect x="396.3" y="190.4" width="1.5" height="1.5" fill="#0000ff"/>
<rect x="402.2" y="183" width="1.5" height="1.5" fill="#0000ff"/>
<rect x="384.9" y="165.1" width="1.5" height="1.5" fill="#0000ff"/>
<rect x="401.4" y="202.8" width="1.5" height="1.5" fill="#0000ff"/>
<rect x="388.2" y="228.5" width="1.5" height="1.5" fill="#0000ff"/>
<rect x="327.3" y="215.3" width="1.5" height="1.5" fill="#0000ff"/>
<rect x="332.4" y="219.7" width="1.5" height="1.5" fill="#0000ff"/>
<rect x="321.4" y="212.4" width="1.5" height="1.5" fill="#0000ff"/>
<rect x="330.2" y="202.8" width="1.5" height="1.5" fill="#0000ff"/>
<rect x="334.6" y="200.6" width="1.5" height="1.5" fill="#0000ff"/>
<rect x="367.7" y="217.5" width="1.5" height="1.5" fill="#0000ff"/>
<rect x="350.8" y="193" width="1.5" height="1.5" fill="#0000ff"/>
<rect x="372.8" y="171.3" width="1.5" height="1.5" fill="#0000ff"/>
<path d="M238.5 302.7 245.8 301.2 251.7 303.4 257.6 305.6 260.5 302.7 264.9 304.2 265.7 311.5 260.5 314.4 256.1 316.6 251.7 315.9 248.8 311.5 244.4 308.6 240 307.8Z" fill="#0000ff"/>
<path d="M234.1 307.8 238.5 309.3 240 314.4 242.9 318.8 247.3 321 245.8 325.4 241.4 326.9 237.8 323.2 235.6 317.4 234.1 311.5Z" fill="#0000ff"/>
<path d="M229 305.6 231.9 307.8 232.6 311.5 230.4 310.8Z" fill="#0000ff"/>
<path d="M249.5 307.1 253.9 307.8 254.6 311.5 251 310.8Z" fill="#ff4500"/>
<path d="M239.7 321.8 242.9 322.5 244.4 325.4 240.7 326.9Z" fill="#ff4500"/>
<rect x="372.5" y="171.5" width="1.6" height="1.6" fill="#ff4500"/>
<rect x="384.2" y="179.7" width="1.6" height="1.6" fill="#ff4500"/>
<rect x="401.4" y="202.8" width="1.6" height="1.6" fill="#ff4500"/>
<rect x="396" y="218.2" width="1.6" height="1.6" fill="#ff4500"/>
<rect x="185.6" y="312.2" width="1.6" height="1.6" fill="#0000ff"/>
</g></g>
<use href="#fu" stroke-width="1.15"/>
<use href="#lb" y="1.3"/>

<use href="#plus"/>
<text x="36.9" y="65.9" class="tt">2A23 rain types</text>
<text x="439.4" y="522.6" class="pl">(h)</text>
<rect x="495.3" y="40.9" width="8.7" height="169.3" fill="#ff4200"/>
<rect x="495.3" y="210.2" width="8.7" height="169.3" fill="#0000ff"/>
<rect x="495.3" y="40.9" width="8.7" height="507.8" fill="none" stroke="#222" stroke-width="0.6"/>
<line x1="504" y1="40.9" x2="506.5" y2="40.9" class="tk"/><line x1="504" y1="210.2" x2="506.5" y2="210.2" class="tk"/><line x1="504" y1="379.5" x2="506.5" y2="379.5" class="tk"/>
<text transform="translate(507.4 48.7) scale(1.02 1)" class="cb" style="text-anchor:start">Conv</text>
<text transform="translate(507.4 217.6) scale(1.02 1)" class="cb" style="text-anchor:start">Strat</text>
<text transform="translate(507.4 387.7) scale(1.02 1)" class="cb" style="text-anchor:start">N/A</text>
</g>
<g transform="translate(1181 1181)">
<g clip-path="url(#pc)"><g transform="translate(0 0)">
<path d="M312.5 216.9 316.2 215.6 317.5 220.6 321.2 221.9 320 225.6 315 224.4 312.5 225.6 311.9 221.9Z" fill="#a8a8a8"/>
<path d="M324.4 208.9 330.6 206.4 333.1 210.2 329.4 212.7 325.6 212.7Z" fill="#b0b0b0"/>
<path d="M335.4 214.9 339.8 212.4 343.5 215.5 342.3 219.2 337.3 219.9Z" fill="#9c9c9c"/>
<path d="M347.8 226.7 354.7 224.8 354.1 231.7 350.3 231Z" fill="#a4a4a4"/>
<path d="M391.4 209.1 398.2 207.8 401.3 210.3 398.2 214 393.2 213.4Z" fill="#84d884"/>
<path d="M393.9 217.2 398.9 215.9 398.9 221.5 395.1 222.1Z" fill="#84d884"/>
<path d="M383.6 221.4 388.6 220.5 388.6 223.9 384.2 223.9Z" fill="#b8b8b8"/>
<path d="M346 192.3 349.1 192.9 348.7 196.9 346.6 196.4Z" fill="#acacac"/>
<path d="M339.8 200.1 343.2 199.5 342.5 202.9 340 203.3Z" fill="#a8a8a8"/>
<path d="M385 179.7 388.7 179.1 389.4 183.5 386.2 184.5Z" fill="#b0b0b0"/>
<path d="M364.3 172.3 367.4 171.7 366.8 176.1 364.9 175.8Z" fill="#b8b8b8"/>
<line x1="323.7" y1="231.5" x2="336.9" y2="223.4" stroke="#aaaaaa" stroke-width="1.5"/>
<line x1="372.8" y1="227.1" x2="379.4" y2="223.4" stroke="#aaaaaa" stroke-width="1.5"/>
<line x1="344.2" y1="238.1" x2="351.5" y2="235.1" stroke="#aaaaaa" stroke-width="1.5"/>
<line x1="323.7" y1="239.8" x2="328.8" y2="237.8" stroke="#aaaaaa" stroke-width="1.5"/>
<line x1="339.8" y1="243.2" x2="344.2" y2="241.8" stroke="#aaaaaa" stroke-width="1.5"/>
<line x1="331" y1="246.9" x2="335.4" y2="248.4" stroke="#aaaaaa" stroke-width="1.5"/>
<line x1="322.2" y1="234.4" x2="325.1" y2="232.9" stroke="#aaaaaa" stroke-width="1.5"/>
<line x1="340.5" y1="224.9" x2="344.9" y2="222.7" stroke="#aaaaaa" stroke-width="1.5"/>
<line x1="353" y1="219" x2="356.7" y2="217.2" stroke="#aaaaaa" stroke-width="1.5"/>
<line x1="306.8" y1="201.4" x2="309" y2="204.3" stroke="#aaaaaa" stroke-width="1.5"/>
<line x1="319.2" y1="202.9" x2="322.2" y2="205.8" stroke="#aaaaaa" stroke-width="1.5"/>
<rect x="326.6" y="250.6" width="1.4" height="1.4" fill="#b4b4b4"/>
<rect x="303.9" y="223.4" width="1.4" height="1.4" fill="#b4b4b4"/>
<rect x="383.9" y="196" width="1.4" height="1.4" fill="#b4b4b4"/>
<rect x="391.2" y="197.7" width="1.4" height="1.4" fill="#b4b4b4"/>
<rect x="396.4" y="190.4" width="1.4" height="1.4" fill="#b4b4b4"/>
<rect x="402.2" y="183.1" width="1.4" height="1.4" fill="#b4b4b4"/>
<rect x="384.9" y="165.2" width="1.4" height="1.4" fill="#b4b4b4"/>
<rect x="401.5" y="202.9" width="1.4" height="1.4" fill="#b4b4b4"/>
<rect x="388.3" y="228.6" width="1.4" height="1.4" fill="#b4b4b4"/>
<rect x="327.4" y="215.4" width="1.4" height="1.4" fill="#b4b4b4"/>
<rect x="332.5" y="219.8" width="1.4" height="1.4" fill="#b4b4b4"/>
<rect x="321.5" y="212.4" width="1.4" height="1.4" fill="#b4b4b4"/>
<rect x="330.3" y="202.9" width="1.4" height="1.4" fill="#b4b4b4"/>
<rect x="334.7" y="200.7" width="1.4" height="1.4" fill="#b4b4b4"/>
<rect x="367.7" y="217.6" width="1.4" height="1.4" fill="#b4b4b4"/>
<rect x="350.8" y="193" width="1.4" height="1.4" fill="#b4b4b4"/>
<rect x="372.9" y="171.3" width="1.4" height="1.4" fill="#b4b4b4"/>
<path d="M238.5 302.7 245.8 301.2 251.7 303.4 257.6 305.6 260.5 302.7 264.9 304.2 265.7 311.5 260.5 314.4 256.1 316.6 251.7 315.9 248.8 311.5 244.4 308.6 240 307.8Z" fill="#b8b8b8"/>
<path d="M234.1 307.8 238.5 309.3 240 314.4 242.9 318.8 247.3 321 245.8 325.4 241.4 326.9 237.8 323.2 235.6 317.4 234.1 311.5Z" fill="#b0b0b0"/>
<path d="M229 305.6 231.9 307.8 232.6 311.5 230.4 310.8Z" fill="#c0c0c0"/>
<path d="M238.5 318.8 242.9 320.3 247.3 322.5 245.1 325.4 241.4 326.2 238.5 323.2Z" fill="#84d884"/>
<path d="M253.9 312.2 256.9 311.5 257.6 313.7 254.6 314.4Z" fill="#84d884"/>
<path d="M336.9 215.8 340.5 214.6 341.3 217.8 338.3 218.3Z" fill="#84d884"/>
<line x1="345.7" y1="238.1" x2="351.5" y2="235.6" stroke="#84d884" stroke-width="1.6"/>
<path d="M350.8 227.8 354.8 229.3 354.2 232.2 351.5 231Z" fill="#84d884"/>
<rect x="368.4" y="217.8" width="1.5" height="1.5" fill="#1428f0"/>
<rect x="185.6" y="312.2" width="1.5" height="1.5" fill="#6a1010"/>
<rect x="186.4" y="332" width="1.5" height="1.5" fill="#ffc800"/>
</g></g>
<use href="#fu" stroke-width="1.15"/>
<use href="#lb" y="1.3"/>

<use href="#plus"/>
<text x="36.9" y="65.9" class="tt">2A23 storm height (km)</text>
<text x="439.4" y="522.6" class="pl">(i)</text>
<rect x="495.1" y="531.82" width="8.8" height="8.77" fill="#f8f8f7"/>
<rect x="495.1" y="523.35" width="8.8" height="8.77" fill="#f0f0f0"/>
<rect x="495.1" y="514.88" width="8.8" height="8.77" fill="#e9e8e8"/>
<rect x="495.1" y="506.42" width="8.8" height="8.77" fill="#e2e1e0"/>
<rect x="495.1" y="497.95" width="8.8" height="8.77" fill="#dadad9"/>
<rect x="495.1" y="489.48" width="8.8" height="8.77" fill="#d3d2d1"/>
<rect x="495.1" y="481.02" width="8.8" height="8.77" fill="#cccaca"/>
<rect x="495.1" y="472.55" width="8.8" height="8.77" fill="#c4c3c2"/>
<rect x="495.1" y="464.08" width="8.8" height="8.77" fill="#bdbcba"/>
<rect x="495.1" y="455.62" width="8.8" height="8.77" fill="#b5b4b3"/>
<rect x="495.1" y="447.15" width="8.8" height="8.77" fill="#aeacab"/>
<rect x="495.1" y="438.68" width="8.8" height="8.77" fill="#a7a5a3"/>
<rect x="495.1" y="430.22" width="8.8" height="8.77" fill="#9f9e9c"/>
<rect x="495.1" y="421.75" width="8.8" height="8.77" fill="#989694"/>
<rect x="495.1" y="413.28" width="8.8" height="8.77" fill="#86e686"/>
<rect x="495.1" y="404.82" width="8.8" height="8.77" fill="#7fdc7f"/>
<rect x="495.1" y="396.35" width="8.8" height="8.77" fill="#78d178"/>
<rect x="495.1" y="387.88" width="8.8" height="8.77" fill="#71c671"/>
<rect x="495.1" y="379.42" width="8.8" height="8.77" fill="#6abc6a"/>
<rect x="495.1" y="370.95" width="8.8" height="8.77" fill="#d2d7ff"/>
<rect x="495.1" y="362.48" width="8.8" height="8.77" fill="#b4cdff"/>
<rect x="495.1" y="354.02" width="8.8" height="8.77" fill="#96c3ff"/>
<rect x="495.1" y="345.55" width="8.8" height="8.77" fill="#82beff"/>
<rect x="495.1" y="337.08" width="8.8" height="8.77" fill="#6eb4ff"/>
<rect x="495.1" y="328.62" width="8.8" height="8.77" fill="#55aaff"/>
<rect x="495.1" y="320.15" width="8.8" height="8.77" fill="#4a8cff"/>
<rect x="495.1" y="311.68" width="8.8" height="8.77" fill="#4670ff"/>
<rect x="495.1" y="303.22" width="8.8" height="8.77" fill="#3c50ff"/>
<rect x="495.1" y="294.75" width="8.8" height="8.77" fill="#3030ff"/>
<rect x="495.1" y="286.28" width="8.8" height="8.77" fill="#0000ff"/>
<rect x="495.1" y="277.82" width="8.8" height="8.77" fill="#0000f0"/>
<rect x="495.1" y="269.35" width="8.8" height="8.77" fill="#0000e1"/>
<rect x="495.1" y="260.88" width="8.8" height="8.77" fill="#0000d4"/>
<rect x="495.1" y="252.42" width="8.8" height="8.77" fill="#0000c8"/>
<rect x="495.1" y="243.95" width="8.8" height="8.77" fill="#ffff00"/>
<rect x="495.1" y="235.48" width="8.8" height="8.77" fill="#fff200"/>
<rect x="495.1" y="227.02" width="8.8" height="8.77" fill="#ffe600"/>
<rect x="495.1" y="218.55" width="8.8" height="8.77" fill="#ffda00"/>
<rect x="495.1" y="210.08" width="8.8" height="8.77" fill="#ffcd00"/>
<rect x="495.1" y="201.62" width="8.8" height="8.77" fill="#ff9600"/>
<rect x="495.1" y="193.15" width="8.8" height="8.77" fill="#ff8c00"/>
<rect x="495.1" y="184.68" width="8.8" height="8.77" fill="#ff8200"/>
<rect x="495.1" y="176.22" width="8.8" height="8.77" fill="#ff7800"/>
<rect x="495.1" y="167.75" width="8.8" height="8.77" fill="#ff6e00"/>
<rect x="495.1" y="159.28" width="8.8" height="8.77" fill="#ff3c00"/>
<rect x="495.1" y="150.82" width="8.8" height="8.77" fill="#ff3200"/>
<rect x="495.1" y="142.35" width="8.8" height="8.77" fill="#ff2800"/>
<rect x="495.1" y="133.88" width="8.8" height="8.77" fill="#ff1e00"/>
<rect x="495.1" y="125.42" width="8.8" height="8.77" fill="#ff1400"/>
<rect x="495.1" y="116.95" width="8.8" height="8.77" fill="#c80000"/>
<rect x="495.1" y="108.48" width="8.8" height="8.77" fill="#be0300"/>
<rect x="495.1" y="100.02" width="8.8" height="8.77" fill="#b40600"/>
<rect x="495.1" y="91.55" width="8.8" height="8.77" fill="#aa0900"/>
<rect x="495.1" y="83.08" width="8.8" height="8.77" fill="#a00c00"/>
<rect x="495.1" y="74.62" width="8.8" height="8.77" fill="#640e06"/>
<rect x="495.1" y="66.15" width="8.8" height="8.77" fill="#62110a"/>
<rect x="495.1" y="57.68" width="8.8" height="8.77" fill="#5f140f"/>
<rect x="495.1" y="49.22" width="8.8" height="8.77" fill="#5c1714"/>
<rect x="495.1" y="40.75" width="8.8" height="8.77" fill="#5a1a18"/>
<line x1="503.9" y1="548.90" x2="506.1" y2="548.90" class="tk"/>
<text transform="translate(532.9 557.1) scale(1.02 1)" class="cb">0.0</text>
<line x1="503.9" y1="498.10" x2="506.1" y2="498.10" class="tk"/>
<text transform="translate(532.9 506.3) scale(1.02 1)" class="cb">2.0</text>
<line x1="503.9" y1="447.30" x2="506.1" y2="447.30" class="tk"/>
<text transform="translate(532.9 455.5) scale(1.02 1)" class="cb">4.0</text>
<line x1="503.9" y1="396.50" x2="506.1" y2="396.50" class="tk"/>
<text transform="translate(532.9 404.7) scale(1.02 1)" class="cb">6.0</text>
<line x1="503.9" y1="345.70" x2="506.1" y2="345.70" class="tk"/>
<text transform="translate(532.9 353.9) scale(1.02 1)" class="cb">8.0</text>
<line x1="503.9" y1="294.90" x2="506.1" y2="294.90" class="tk"/>
<text transform="translate(532.9 303.1) scale(1.02 1)" class="cb">10.0</text>
<line x1="503.9" y1="244.10" x2="506.1" y2="244.10" class="tk"/>
<text transform="translate(532.9 252.3) scale(1.02 1)" class="cb">12.0</text>
<line x1="503.9" y1="193.30" x2="506.1" y2="193.30" class="tk"/>
<text transform="translate(532.9 201.5) scale(1.02 1)" class="cb">14.0</text>
<line x1="503.9" y1="142.50" x2="506.1" y2="142.50" class="tk"/>
<text transform="translate(532.9 150.7) scale(1.02 1)" class="cb">16.0</text>
<line x1="503.9" y1="91.70" x2="506.1" y2="91.70" class="tk"/>
<text transform="translate(532.9 99.9) scale(1.02 1)" class="cb">18.0</text>
</g>
</g>
</svg></body></html>
